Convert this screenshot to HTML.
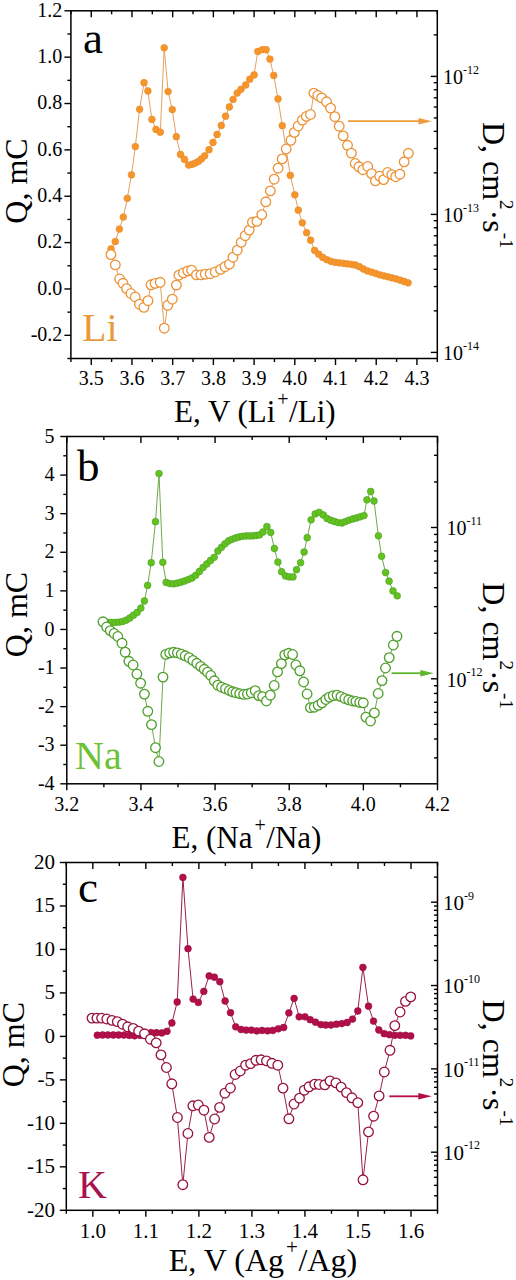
<!DOCTYPE html>
<html><head><meta charset="utf-8"><style>
html,body{margin:0;padding:0;background:#fff;}
body{width:516px;height:1280px;overflow:hidden;}
svg{display:block;font-family:"Liberation Serif", serif;}
</style></head><body>
<svg width="516" height="1280" viewBox="0 0 516 1280">
<rect width="516" height="1280" fill="#fff"/>
<polyline points="111,248.9 115.3,241.6 119.4,229.1 123.3,217.1 127.3,198.3 131.5,174.8 135.3,146.6 139.6,109.3 144,82.7 147.9,91 151.9,119.4 156,129.5 160.3,132.2 164.2,47.8 168.1,91.6 172.3,109.6 176.3,136.7 180.5,154.5 184.5,159.4 188.6,165.1 192.1,164.3 195.3,163.1 198.5,161.3 201.4,159 204.7,155.8 209,149.7 213,142.5 217.1,134.5 221.3,125.5 225.6,116.2 229.4,106.9 233.1,99.4 237.2,93.1 241,89.3 245.7,85 249.8,79.2 254.1,74.9 257.8,51.5 262.4,49.7 266.1,49.7 269.9,59.1 273.7,75.4 278,98.9 282.3,125.7 286.4,150.6 290.3,175.4 294.8,194.8 298.3,210.2 302.3,222.8 306.6,232.7 310.6,240.2 314.6,250.4 318.7,254.2 322.7,257.4 326.8,259.7 330.9,261.3 334.9,262.3 339,262.8 343.1,263.3 347.1,263.8 351.2,264.3 355.3,265 359.3,266.7 363.4,269 367.4,270.9 371.5,272.1 375.6,273.4 379.6,274.8 383.7,275.8 387.8,276.8 391.8,277.8 395.9,278.8 400,280.1 404,281.5 408.1,282.8" fill="none" stroke="#E2A062" stroke-width="1.0" stroke-linejoin="round"/>
<circle cx="111" cy="248.9" r="3.4" fill="#F6952A" stroke="#E88A2C" stroke-width="0.6"/>
<circle cx="115.3" cy="241.6" r="3.4" fill="#F6952A" stroke="#E88A2C" stroke-width="0.6"/>
<circle cx="119.4" cy="229.1" r="3.4" fill="#F6952A" stroke="#E88A2C" stroke-width="0.6"/>
<circle cx="123.3" cy="217.1" r="3.4" fill="#F6952A" stroke="#E88A2C" stroke-width="0.6"/>
<circle cx="127.3" cy="198.3" r="3.4" fill="#F6952A" stroke="#E88A2C" stroke-width="0.6"/>
<circle cx="131.5" cy="174.8" r="3.4" fill="#F6952A" stroke="#E88A2C" stroke-width="0.6"/>
<circle cx="135.3" cy="146.6" r="3.4" fill="#F6952A" stroke="#E88A2C" stroke-width="0.6"/>
<circle cx="139.6" cy="109.3" r="3.4" fill="#F6952A" stroke="#E88A2C" stroke-width="0.6"/>
<circle cx="144" cy="82.7" r="3.4" fill="#F6952A" stroke="#E88A2C" stroke-width="0.6"/>
<circle cx="147.9" cy="91" r="3.4" fill="#F6952A" stroke="#E88A2C" stroke-width="0.6"/>
<circle cx="151.9" cy="119.4" r="3.4" fill="#F6952A" stroke="#E88A2C" stroke-width="0.6"/>
<circle cx="156" cy="129.5" r="3.4" fill="#F6952A" stroke="#E88A2C" stroke-width="0.6"/>
<circle cx="160.3" cy="132.2" r="3.4" fill="#F6952A" stroke="#E88A2C" stroke-width="0.6"/>
<circle cx="164.2" cy="47.8" r="3.4" fill="#F6952A" stroke="#E88A2C" stroke-width="0.6"/>
<circle cx="168.1" cy="91.6" r="3.4" fill="#F6952A" stroke="#E88A2C" stroke-width="0.6"/>
<circle cx="172.3" cy="109.6" r="3.4" fill="#F6952A" stroke="#E88A2C" stroke-width="0.6"/>
<circle cx="176.3" cy="136.7" r="3.4" fill="#F6952A" stroke="#E88A2C" stroke-width="0.6"/>
<circle cx="180.5" cy="154.5" r="3.4" fill="#F6952A" stroke="#E88A2C" stroke-width="0.6"/>
<circle cx="184.5" cy="159.4" r="3.4" fill="#F6952A" stroke="#E88A2C" stroke-width="0.6"/>
<circle cx="188.6" cy="165.1" r="3.4" fill="#F6952A" stroke="#E88A2C" stroke-width="0.6"/>
<circle cx="192.1" cy="164.3" r="3.4" fill="#F6952A" stroke="#E88A2C" stroke-width="0.6"/>
<circle cx="195.3" cy="163.1" r="3.4" fill="#F6952A" stroke="#E88A2C" stroke-width="0.6"/>
<circle cx="198.5" cy="161.3" r="3.4" fill="#F6952A" stroke="#E88A2C" stroke-width="0.6"/>
<circle cx="201.4" cy="159" r="3.4" fill="#F6952A" stroke="#E88A2C" stroke-width="0.6"/>
<circle cx="204.7" cy="155.8" r="3.4" fill="#F6952A" stroke="#E88A2C" stroke-width="0.6"/>
<circle cx="209" cy="149.7" r="3.4" fill="#F6952A" stroke="#E88A2C" stroke-width="0.6"/>
<circle cx="213" cy="142.5" r="3.4" fill="#F6952A" stroke="#E88A2C" stroke-width="0.6"/>
<circle cx="217.1" cy="134.5" r="3.4" fill="#F6952A" stroke="#E88A2C" stroke-width="0.6"/>
<circle cx="221.3" cy="125.5" r="3.4" fill="#F6952A" stroke="#E88A2C" stroke-width="0.6"/>
<circle cx="225.6" cy="116.2" r="3.4" fill="#F6952A" stroke="#E88A2C" stroke-width="0.6"/>
<circle cx="229.4" cy="106.9" r="3.4" fill="#F6952A" stroke="#E88A2C" stroke-width="0.6"/>
<circle cx="233.1" cy="99.4" r="3.4" fill="#F6952A" stroke="#E88A2C" stroke-width="0.6"/>
<circle cx="237.2" cy="93.1" r="3.4" fill="#F6952A" stroke="#E88A2C" stroke-width="0.6"/>
<circle cx="241" cy="89.3" r="3.4" fill="#F6952A" stroke="#E88A2C" stroke-width="0.6"/>
<circle cx="245.7" cy="85" r="3.4" fill="#F6952A" stroke="#E88A2C" stroke-width="0.6"/>
<circle cx="249.8" cy="79.2" r="3.4" fill="#F6952A" stroke="#E88A2C" stroke-width="0.6"/>
<circle cx="254.1" cy="74.9" r="3.4" fill="#F6952A" stroke="#E88A2C" stroke-width="0.6"/>
<circle cx="257.8" cy="51.5" r="3.4" fill="#F6952A" stroke="#E88A2C" stroke-width="0.6"/>
<circle cx="262.4" cy="49.7" r="3.4" fill="#F6952A" stroke="#E88A2C" stroke-width="0.6"/>
<circle cx="266.1" cy="49.7" r="3.4" fill="#F6952A" stroke="#E88A2C" stroke-width="0.6"/>
<circle cx="269.9" cy="59.1" r="3.4" fill="#F6952A" stroke="#E88A2C" stroke-width="0.6"/>
<circle cx="273.7" cy="75.4" r="3.4" fill="#F6952A" stroke="#E88A2C" stroke-width="0.6"/>
<circle cx="278" cy="98.9" r="3.4" fill="#F6952A" stroke="#E88A2C" stroke-width="0.6"/>
<circle cx="282.3" cy="125.7" r="3.4" fill="#F6952A" stroke="#E88A2C" stroke-width="0.6"/>
<circle cx="286.4" cy="150.6" r="3.4" fill="#F6952A" stroke="#E88A2C" stroke-width="0.6"/>
<circle cx="290.3" cy="175.4" r="3.4" fill="#F6952A" stroke="#E88A2C" stroke-width="0.6"/>
<circle cx="294.8" cy="194.8" r="3.4" fill="#F6952A" stroke="#E88A2C" stroke-width="0.6"/>
<circle cx="298.3" cy="210.2" r="3.4" fill="#F6952A" stroke="#E88A2C" stroke-width="0.6"/>
<circle cx="302.3" cy="222.8" r="3.4" fill="#F6952A" stroke="#E88A2C" stroke-width="0.6"/>
<circle cx="306.6" cy="232.7" r="3.4" fill="#F6952A" stroke="#E88A2C" stroke-width="0.6"/>
<circle cx="310.6" cy="240.2" r="3.4" fill="#F6952A" stroke="#E88A2C" stroke-width="0.6"/>
<circle cx="314.6" cy="250.4" r="3.4" fill="#F6952A" stroke="#E88A2C" stroke-width="0.6"/>
<circle cx="318.7" cy="254.2" r="3.4" fill="#F6952A" stroke="#E88A2C" stroke-width="0.6"/>
<circle cx="322.7" cy="257.4" r="3.4" fill="#F6952A" stroke="#E88A2C" stroke-width="0.6"/>
<circle cx="326.8" cy="259.7" r="3.4" fill="#F6952A" stroke="#E88A2C" stroke-width="0.6"/>
<circle cx="330.9" cy="261.3" r="3.4" fill="#F6952A" stroke="#E88A2C" stroke-width="0.6"/>
<circle cx="334.9" cy="262.3" r="3.4" fill="#F6952A" stroke="#E88A2C" stroke-width="0.6"/>
<circle cx="339" cy="262.8" r="3.4" fill="#F6952A" stroke="#E88A2C" stroke-width="0.6"/>
<circle cx="343.1" cy="263.3" r="3.4" fill="#F6952A" stroke="#E88A2C" stroke-width="0.6"/>
<circle cx="347.1" cy="263.8" r="3.4" fill="#F6952A" stroke="#E88A2C" stroke-width="0.6"/>
<circle cx="351.2" cy="264.3" r="3.4" fill="#F6952A" stroke="#E88A2C" stroke-width="0.6"/>
<circle cx="355.3" cy="265" r="3.4" fill="#F6952A" stroke="#E88A2C" stroke-width="0.6"/>
<circle cx="359.3" cy="266.7" r="3.4" fill="#F6952A" stroke="#E88A2C" stroke-width="0.6"/>
<circle cx="363.4" cy="269" r="3.4" fill="#F6952A" stroke="#E88A2C" stroke-width="0.6"/>
<circle cx="367.4" cy="270.9" r="3.4" fill="#F6952A" stroke="#E88A2C" stroke-width="0.6"/>
<circle cx="371.5" cy="272.1" r="3.4" fill="#F6952A" stroke="#E88A2C" stroke-width="0.6"/>
<circle cx="375.6" cy="273.4" r="3.4" fill="#F6952A" stroke="#E88A2C" stroke-width="0.6"/>
<circle cx="379.6" cy="274.8" r="3.4" fill="#F6952A" stroke="#E88A2C" stroke-width="0.6"/>
<circle cx="383.7" cy="275.8" r="3.4" fill="#F6952A" stroke="#E88A2C" stroke-width="0.6"/>
<circle cx="387.8" cy="276.8" r="3.4" fill="#F6952A" stroke="#E88A2C" stroke-width="0.6"/>
<circle cx="391.8" cy="277.8" r="3.4" fill="#F6952A" stroke="#E88A2C" stroke-width="0.6"/>
<circle cx="395.9" cy="278.8" r="3.4" fill="#F6952A" stroke="#E88A2C" stroke-width="0.6"/>
<circle cx="400" cy="280.1" r="3.4" fill="#F6952A" stroke="#E88A2C" stroke-width="0.6"/>
<circle cx="404" cy="281.5" r="3.4" fill="#F6952A" stroke="#E88A2C" stroke-width="0.6"/>
<circle cx="408.1" cy="282.8" r="3.4" fill="#F6952A" stroke="#E88A2C" stroke-width="0.6"/>
<polyline points="110.9,254.6 115.3,264.9 119.6,279 123,283.3 126.6,288.6 130.9,293.5 135.2,297 139.4,304.2 143.9,307.3 148,300.7 151,284.8 155.1,283.4 160.2,282.3 164.3,328.2 167.8,305.3 172.3,299.2 176.4,285.1 178.9,275.2 183.4,272.9 187.7,270.9 191.6,270.2 196.4,274.9 200.9,274.9 205.2,274.2 210.2,273.7 215.2,272 220.5,269.4 225,266.7 229.4,264.1 233,257.2 237.3,250.2 241.2,242.3 245.2,235.7 249.2,230.1 252.4,222.3 256.9,221.4 261.8,214.6 265.8,201.8 270.3,190.9 274.2,179.2 278.1,168.2 282.2,158.9 286.2,149 290.9,140.3 294.3,132.4 298.2,126 302.3,120.1 306.3,116.4 310.5,114.5 313.9,93.1 317.8,95.5 321.6,97.9 326.5,101.8 330.6,108.1 334.9,116.7 339.2,126.2 343.2,135.9 347.5,145.3 351.4,153.1 355.2,163.5 358.9,166.8 362.9,169.7 367.7,166.5 371.6,173.6 375.4,180.9 379.6,176.1 383.6,179.6 387.6,172.5 391.8,174.6 395.7,176.7 399.9,174.2 404.2,161.8 408.4,153.3" fill="none" stroke="#E2A062" stroke-width="1.0" stroke-linejoin="round"/>
<circle cx="110.9" cy="254.6" r="4.8" fill="#fff" stroke="#EC9236" stroke-width="1.3"/>
<circle cx="115.3" cy="264.9" r="4.8" fill="#fff" stroke="#EC9236" stroke-width="1.3"/>
<circle cx="119.6" cy="279" r="4.8" fill="#fff" stroke="#EC9236" stroke-width="1.3"/>
<circle cx="123" cy="283.3" r="4.8" fill="#fff" stroke="#EC9236" stroke-width="1.3"/>
<circle cx="126.6" cy="288.6" r="4.8" fill="#fff" stroke="#EC9236" stroke-width="1.3"/>
<circle cx="130.9" cy="293.5" r="4.8" fill="#fff" stroke="#EC9236" stroke-width="1.3"/>
<circle cx="135.2" cy="297" r="4.8" fill="#fff" stroke="#EC9236" stroke-width="1.3"/>
<circle cx="139.4" cy="304.2" r="4.8" fill="#fff" stroke="#EC9236" stroke-width="1.3"/>
<circle cx="143.9" cy="307.3" r="4.8" fill="#fff" stroke="#EC9236" stroke-width="1.3"/>
<circle cx="148" cy="300.7" r="4.8" fill="#fff" stroke="#EC9236" stroke-width="1.3"/>
<circle cx="151" cy="284.8" r="4.8" fill="#fff" stroke="#EC9236" stroke-width="1.3"/>
<circle cx="155.1" cy="283.4" r="4.8" fill="#fff" stroke="#EC9236" stroke-width="1.3"/>
<circle cx="160.2" cy="282.3" r="4.8" fill="#fff" stroke="#EC9236" stroke-width="1.3"/>
<circle cx="164.3" cy="328.2" r="4.8" fill="#fff" stroke="#EC9236" stroke-width="1.3"/>
<circle cx="167.8" cy="305.3" r="4.8" fill="#fff" stroke="#EC9236" stroke-width="1.3"/>
<circle cx="172.3" cy="299.2" r="4.8" fill="#fff" stroke="#EC9236" stroke-width="1.3"/>
<circle cx="176.4" cy="285.1" r="4.8" fill="#fff" stroke="#EC9236" stroke-width="1.3"/>
<circle cx="178.9" cy="275.2" r="4.8" fill="#fff" stroke="#EC9236" stroke-width="1.3"/>
<circle cx="183.4" cy="272.9" r="4.8" fill="#fff" stroke="#EC9236" stroke-width="1.3"/>
<circle cx="187.7" cy="270.9" r="4.8" fill="#fff" stroke="#EC9236" stroke-width="1.3"/>
<circle cx="191.6" cy="270.2" r="4.8" fill="#fff" stroke="#EC9236" stroke-width="1.3"/>
<circle cx="196.4" cy="274.9" r="4.8" fill="#fff" stroke="#EC9236" stroke-width="1.3"/>
<circle cx="200.9" cy="274.9" r="4.8" fill="#fff" stroke="#EC9236" stroke-width="1.3"/>
<circle cx="205.2" cy="274.2" r="4.8" fill="#fff" stroke="#EC9236" stroke-width="1.3"/>
<circle cx="210.2" cy="273.7" r="4.8" fill="#fff" stroke="#EC9236" stroke-width="1.3"/>
<circle cx="215.2" cy="272" r="4.8" fill="#fff" stroke="#EC9236" stroke-width="1.3"/>
<circle cx="220.5" cy="269.4" r="4.8" fill="#fff" stroke="#EC9236" stroke-width="1.3"/>
<circle cx="225" cy="266.7" r="4.8" fill="#fff" stroke="#EC9236" stroke-width="1.3"/>
<circle cx="229.4" cy="264.1" r="4.8" fill="#fff" stroke="#EC9236" stroke-width="1.3"/>
<circle cx="233" cy="257.2" r="4.8" fill="#fff" stroke="#EC9236" stroke-width="1.3"/>
<circle cx="237.3" cy="250.2" r="4.8" fill="#fff" stroke="#EC9236" stroke-width="1.3"/>
<circle cx="241.2" cy="242.3" r="4.8" fill="#fff" stroke="#EC9236" stroke-width="1.3"/>
<circle cx="245.2" cy="235.7" r="4.8" fill="#fff" stroke="#EC9236" stroke-width="1.3"/>
<circle cx="249.2" cy="230.1" r="4.8" fill="#fff" stroke="#EC9236" stroke-width="1.3"/>
<circle cx="252.4" cy="222.3" r="4.8" fill="#fff" stroke="#EC9236" stroke-width="1.3"/>
<circle cx="256.9" cy="221.4" r="4.8" fill="#fff" stroke="#EC9236" stroke-width="1.3"/>
<circle cx="261.8" cy="214.6" r="4.8" fill="#fff" stroke="#EC9236" stroke-width="1.3"/>
<circle cx="265.8" cy="201.8" r="4.8" fill="#fff" stroke="#EC9236" stroke-width="1.3"/>
<circle cx="270.3" cy="190.9" r="4.8" fill="#fff" stroke="#EC9236" stroke-width="1.3"/>
<circle cx="274.2" cy="179.2" r="4.8" fill="#fff" stroke="#EC9236" stroke-width="1.3"/>
<circle cx="278.1" cy="168.2" r="4.8" fill="#fff" stroke="#EC9236" stroke-width="1.3"/>
<circle cx="282.2" cy="158.9" r="4.8" fill="#fff" stroke="#EC9236" stroke-width="1.3"/>
<circle cx="286.2" cy="149" r="4.8" fill="#fff" stroke="#EC9236" stroke-width="1.3"/>
<circle cx="290.9" cy="140.3" r="4.8" fill="#fff" stroke="#EC9236" stroke-width="1.3"/>
<circle cx="294.3" cy="132.4" r="4.8" fill="#fff" stroke="#EC9236" stroke-width="1.3"/>
<circle cx="298.2" cy="126" r="4.8" fill="#fff" stroke="#EC9236" stroke-width="1.3"/>
<circle cx="302.3" cy="120.1" r="4.8" fill="#fff" stroke="#EC9236" stroke-width="1.3"/>
<circle cx="306.3" cy="116.4" r="4.8" fill="#fff" stroke="#EC9236" stroke-width="1.3"/>
<circle cx="310.5" cy="114.5" r="4.8" fill="#fff" stroke="#EC9236" stroke-width="1.3"/>
<circle cx="313.9" cy="93.1" r="4.8" fill="#fff" stroke="#EC9236" stroke-width="1.3"/>
<circle cx="317.8" cy="95.5" r="4.8" fill="#fff" stroke="#EC9236" stroke-width="1.3"/>
<circle cx="321.6" cy="97.9" r="4.8" fill="#fff" stroke="#EC9236" stroke-width="1.3"/>
<circle cx="326.5" cy="101.8" r="4.8" fill="#fff" stroke="#EC9236" stroke-width="1.3"/>
<circle cx="330.6" cy="108.1" r="4.8" fill="#fff" stroke="#EC9236" stroke-width="1.3"/>
<circle cx="334.9" cy="116.7" r="4.8" fill="#fff" stroke="#EC9236" stroke-width="1.3"/>
<circle cx="339.2" cy="126.2" r="4.8" fill="#fff" stroke="#EC9236" stroke-width="1.3"/>
<circle cx="343.2" cy="135.9" r="4.8" fill="#fff" stroke="#EC9236" stroke-width="1.3"/>
<circle cx="347.5" cy="145.3" r="4.8" fill="#fff" stroke="#EC9236" stroke-width="1.3"/>
<circle cx="351.4" cy="153.1" r="4.8" fill="#fff" stroke="#EC9236" stroke-width="1.3"/>
<circle cx="355.2" cy="163.5" r="4.8" fill="#fff" stroke="#EC9236" stroke-width="1.3"/>
<circle cx="358.9" cy="166.8" r="4.8" fill="#fff" stroke="#EC9236" stroke-width="1.3"/>
<circle cx="362.9" cy="169.7" r="4.8" fill="#fff" stroke="#EC9236" stroke-width="1.3"/>
<circle cx="367.7" cy="166.5" r="4.8" fill="#fff" stroke="#EC9236" stroke-width="1.3"/>
<circle cx="371.6" cy="173.6" r="4.8" fill="#fff" stroke="#EC9236" stroke-width="1.3"/>
<circle cx="375.4" cy="180.9" r="4.8" fill="#fff" stroke="#EC9236" stroke-width="1.3"/>
<circle cx="379.6" cy="176.1" r="4.8" fill="#fff" stroke="#EC9236" stroke-width="1.3"/>
<circle cx="383.6" cy="179.6" r="4.8" fill="#fff" stroke="#EC9236" stroke-width="1.3"/>
<circle cx="387.6" cy="172.5" r="4.8" fill="#fff" stroke="#EC9236" stroke-width="1.3"/>
<circle cx="391.8" cy="174.6" r="4.8" fill="#fff" stroke="#EC9236" stroke-width="1.3"/>
<circle cx="395.7" cy="176.7" r="4.8" fill="#fff" stroke="#EC9236" stroke-width="1.3"/>
<circle cx="399.9" cy="174.2" r="4.8" fill="#fff" stroke="#EC9236" stroke-width="1.3"/>
<circle cx="404.2" cy="161.8" r="4.8" fill="#fff" stroke="#EC9236" stroke-width="1.3"/>
<circle cx="408.4" cy="153.3" r="4.8" fill="#fff" stroke="#EC9236" stroke-width="1.3"/>
<polyline points="103.9,622.6 107.6,622.4 111.3,622.5 115,622.4 118.7,622.2 122.4,621.6 126.1,620.2 129.8,618 133.5,615.2 137.2,612.4 140.9,608.1 144.4,601 147.6,585.4 151.2,562.7 155.5,521.7 159,473.6 162.8,562.3 166.1,582.4 169.8,583.6 173.5,583.8 177.2,583.2 180.9,582.2 184.6,581 188.3,579.6 192,578 195.7,575.3 199.4,571.5 203.1,567.5 206.8,564 210.5,560.5 214.2,557.3 217.9,551 221.5,547.3 225,543.8 228.5,541 232,539.3 235.5,538 239,537 242.5,536.3 246,535.9 249.5,535.9 253,535.9 256,535.5 259.5,534.9 263,532 266.9,526.6 270.7,532.4 274.4,548.5 277.9,562.1 281.6,571.7 285.5,576 289.3,576.9 293,576.9 296.5,569.7 300.6,562.7 304.1,552 307.2,537.7 311.1,519.8 315.2,513.9 319.2,512.3 323.3,515 327,518.5 330.7,520.2 334.4,521.5 338.1,522.6 341.8,523 345.5,521.6 349.2,520.1 352.9,518.9 356.6,517.9 360.3,516.8 364,515.6 366.9,499.8 370.7,491.5 374,501 378.4,535.8 381.6,556.3 385.6,572.6 389.1,581.2 393,590.9 397.2,595.8" fill="none" stroke="#72A84A" stroke-width="1.0" stroke-linejoin="round"/>
<circle cx="103.9" cy="622.6" r="3.4" fill="#62C31F" stroke="#4E9E2A" stroke-width="0.6"/>
<circle cx="107.6" cy="622.4" r="3.4" fill="#62C31F" stroke="#4E9E2A" stroke-width="0.6"/>
<circle cx="111.3" cy="622.5" r="3.4" fill="#62C31F" stroke="#4E9E2A" stroke-width="0.6"/>
<circle cx="115" cy="622.4" r="3.4" fill="#62C31F" stroke="#4E9E2A" stroke-width="0.6"/>
<circle cx="118.7" cy="622.2" r="3.4" fill="#62C31F" stroke="#4E9E2A" stroke-width="0.6"/>
<circle cx="122.4" cy="621.6" r="3.4" fill="#62C31F" stroke="#4E9E2A" stroke-width="0.6"/>
<circle cx="126.1" cy="620.2" r="3.4" fill="#62C31F" stroke="#4E9E2A" stroke-width="0.6"/>
<circle cx="129.8" cy="618" r="3.4" fill="#62C31F" stroke="#4E9E2A" stroke-width="0.6"/>
<circle cx="133.5" cy="615.2" r="3.4" fill="#62C31F" stroke="#4E9E2A" stroke-width="0.6"/>
<circle cx="137.2" cy="612.4" r="3.4" fill="#62C31F" stroke="#4E9E2A" stroke-width="0.6"/>
<circle cx="140.9" cy="608.1" r="3.4" fill="#62C31F" stroke="#4E9E2A" stroke-width="0.6"/>
<circle cx="144.4" cy="601" r="3.4" fill="#62C31F" stroke="#4E9E2A" stroke-width="0.6"/>
<circle cx="147.6" cy="585.4" r="3.4" fill="#62C31F" stroke="#4E9E2A" stroke-width="0.6"/>
<circle cx="151.2" cy="562.7" r="3.4" fill="#62C31F" stroke="#4E9E2A" stroke-width="0.6"/>
<circle cx="155.5" cy="521.7" r="3.4" fill="#62C31F" stroke="#4E9E2A" stroke-width="0.6"/>
<circle cx="159" cy="473.6" r="3.4" fill="#62C31F" stroke="#4E9E2A" stroke-width="0.6"/>
<circle cx="162.8" cy="562.3" r="3.4" fill="#62C31F" stroke="#4E9E2A" stroke-width="0.6"/>
<circle cx="166.1" cy="582.4" r="3.4" fill="#62C31F" stroke="#4E9E2A" stroke-width="0.6"/>
<circle cx="169.8" cy="583.6" r="3.4" fill="#62C31F" stroke="#4E9E2A" stroke-width="0.6"/>
<circle cx="173.5" cy="583.8" r="3.4" fill="#62C31F" stroke="#4E9E2A" stroke-width="0.6"/>
<circle cx="177.2" cy="583.2" r="3.4" fill="#62C31F" stroke="#4E9E2A" stroke-width="0.6"/>
<circle cx="180.9" cy="582.2" r="3.4" fill="#62C31F" stroke="#4E9E2A" stroke-width="0.6"/>
<circle cx="184.6" cy="581" r="3.4" fill="#62C31F" stroke="#4E9E2A" stroke-width="0.6"/>
<circle cx="188.3" cy="579.6" r="3.4" fill="#62C31F" stroke="#4E9E2A" stroke-width="0.6"/>
<circle cx="192" cy="578" r="3.4" fill="#62C31F" stroke="#4E9E2A" stroke-width="0.6"/>
<circle cx="195.7" cy="575.3" r="3.4" fill="#62C31F" stroke="#4E9E2A" stroke-width="0.6"/>
<circle cx="199.4" cy="571.5" r="3.4" fill="#62C31F" stroke="#4E9E2A" stroke-width="0.6"/>
<circle cx="203.1" cy="567.5" r="3.4" fill="#62C31F" stroke="#4E9E2A" stroke-width="0.6"/>
<circle cx="206.8" cy="564" r="3.4" fill="#62C31F" stroke="#4E9E2A" stroke-width="0.6"/>
<circle cx="210.5" cy="560.5" r="3.4" fill="#62C31F" stroke="#4E9E2A" stroke-width="0.6"/>
<circle cx="214.2" cy="557.3" r="3.4" fill="#62C31F" stroke="#4E9E2A" stroke-width="0.6"/>
<circle cx="217.9" cy="551" r="3.4" fill="#62C31F" stroke="#4E9E2A" stroke-width="0.6"/>
<circle cx="221.5" cy="547.3" r="3.4" fill="#62C31F" stroke="#4E9E2A" stroke-width="0.6"/>
<circle cx="225" cy="543.8" r="3.4" fill="#62C31F" stroke="#4E9E2A" stroke-width="0.6"/>
<circle cx="228.5" cy="541" r="3.4" fill="#62C31F" stroke="#4E9E2A" stroke-width="0.6"/>
<circle cx="232" cy="539.3" r="3.4" fill="#62C31F" stroke="#4E9E2A" stroke-width="0.6"/>
<circle cx="235.5" cy="538" r="3.4" fill="#62C31F" stroke="#4E9E2A" stroke-width="0.6"/>
<circle cx="239" cy="537" r="3.4" fill="#62C31F" stroke="#4E9E2A" stroke-width="0.6"/>
<circle cx="242.5" cy="536.3" r="3.4" fill="#62C31F" stroke="#4E9E2A" stroke-width="0.6"/>
<circle cx="246" cy="535.9" r="3.4" fill="#62C31F" stroke="#4E9E2A" stroke-width="0.6"/>
<circle cx="249.5" cy="535.9" r="3.4" fill="#62C31F" stroke="#4E9E2A" stroke-width="0.6"/>
<circle cx="253" cy="535.9" r="3.4" fill="#62C31F" stroke="#4E9E2A" stroke-width="0.6"/>
<circle cx="256" cy="535.5" r="3.4" fill="#62C31F" stroke="#4E9E2A" stroke-width="0.6"/>
<circle cx="259.5" cy="534.9" r="3.4" fill="#62C31F" stroke="#4E9E2A" stroke-width="0.6"/>
<circle cx="263" cy="532" r="3.4" fill="#62C31F" stroke="#4E9E2A" stroke-width="0.6"/>
<circle cx="266.9" cy="526.6" r="3.4" fill="#62C31F" stroke="#4E9E2A" stroke-width="0.6"/>
<circle cx="270.7" cy="532.4" r="3.4" fill="#62C31F" stroke="#4E9E2A" stroke-width="0.6"/>
<circle cx="274.4" cy="548.5" r="3.4" fill="#62C31F" stroke="#4E9E2A" stroke-width="0.6"/>
<circle cx="277.9" cy="562.1" r="3.4" fill="#62C31F" stroke="#4E9E2A" stroke-width="0.6"/>
<circle cx="281.6" cy="571.7" r="3.4" fill="#62C31F" stroke="#4E9E2A" stroke-width="0.6"/>
<circle cx="285.5" cy="576" r="3.4" fill="#62C31F" stroke="#4E9E2A" stroke-width="0.6"/>
<circle cx="289.3" cy="576.9" r="3.4" fill="#62C31F" stroke="#4E9E2A" stroke-width="0.6"/>
<circle cx="293" cy="576.9" r="3.4" fill="#62C31F" stroke="#4E9E2A" stroke-width="0.6"/>
<circle cx="296.5" cy="569.7" r="3.4" fill="#62C31F" stroke="#4E9E2A" stroke-width="0.6"/>
<circle cx="300.6" cy="562.7" r="3.4" fill="#62C31F" stroke="#4E9E2A" stroke-width="0.6"/>
<circle cx="304.1" cy="552" r="3.4" fill="#62C31F" stroke="#4E9E2A" stroke-width="0.6"/>
<circle cx="307.2" cy="537.7" r="3.4" fill="#62C31F" stroke="#4E9E2A" stroke-width="0.6"/>
<circle cx="311.1" cy="519.8" r="3.4" fill="#62C31F" stroke="#4E9E2A" stroke-width="0.6"/>
<circle cx="315.2" cy="513.9" r="3.4" fill="#62C31F" stroke="#4E9E2A" stroke-width="0.6"/>
<circle cx="319.2" cy="512.3" r="3.4" fill="#62C31F" stroke="#4E9E2A" stroke-width="0.6"/>
<circle cx="323.3" cy="515" r="3.4" fill="#62C31F" stroke="#4E9E2A" stroke-width="0.6"/>
<circle cx="327" cy="518.5" r="3.4" fill="#62C31F" stroke="#4E9E2A" stroke-width="0.6"/>
<circle cx="330.7" cy="520.2" r="3.4" fill="#62C31F" stroke="#4E9E2A" stroke-width="0.6"/>
<circle cx="334.4" cy="521.5" r="3.4" fill="#62C31F" stroke="#4E9E2A" stroke-width="0.6"/>
<circle cx="338.1" cy="522.6" r="3.4" fill="#62C31F" stroke="#4E9E2A" stroke-width="0.6"/>
<circle cx="341.8" cy="523" r="3.4" fill="#62C31F" stroke="#4E9E2A" stroke-width="0.6"/>
<circle cx="345.5" cy="521.6" r="3.4" fill="#62C31F" stroke="#4E9E2A" stroke-width="0.6"/>
<circle cx="349.2" cy="520.1" r="3.4" fill="#62C31F" stroke="#4E9E2A" stroke-width="0.6"/>
<circle cx="352.9" cy="518.9" r="3.4" fill="#62C31F" stroke="#4E9E2A" stroke-width="0.6"/>
<circle cx="356.6" cy="517.9" r="3.4" fill="#62C31F" stroke="#4E9E2A" stroke-width="0.6"/>
<circle cx="360.3" cy="516.8" r="3.4" fill="#62C31F" stroke="#4E9E2A" stroke-width="0.6"/>
<circle cx="364" cy="515.6" r="3.4" fill="#62C31F" stroke="#4E9E2A" stroke-width="0.6"/>
<circle cx="366.9" cy="499.8" r="3.4" fill="#62C31F" stroke="#4E9E2A" stroke-width="0.6"/>
<circle cx="370.7" cy="491.5" r="3.4" fill="#62C31F" stroke="#4E9E2A" stroke-width="0.6"/>
<circle cx="374" cy="501" r="3.4" fill="#62C31F" stroke="#4E9E2A" stroke-width="0.6"/>
<circle cx="378.4" cy="535.8" r="3.4" fill="#62C31F" stroke="#4E9E2A" stroke-width="0.6"/>
<circle cx="381.6" cy="556.3" r="3.4" fill="#62C31F" stroke="#4E9E2A" stroke-width="0.6"/>
<circle cx="385.6" cy="572.6" r="3.4" fill="#62C31F" stroke="#4E9E2A" stroke-width="0.6"/>
<circle cx="389.1" cy="581.2" r="3.4" fill="#62C31F" stroke="#4E9E2A" stroke-width="0.6"/>
<circle cx="393" cy="590.9" r="3.4" fill="#62C31F" stroke="#4E9E2A" stroke-width="0.6"/>
<circle cx="397.2" cy="595.8" r="3.4" fill="#62C31F" stroke="#4E9E2A" stroke-width="0.6"/>
<polyline points="103,621.8 106.6,627 110.3,630.6 114.1,633.5 117.8,636.5 122,643.2 125.2,652.2 128.9,661.3 133.1,665 136.9,674 140.6,683.2 144.4,694.1 147.8,711.3 151.5,724.6 155.5,747.7 158.9,761.5 163,677.1 165.8,654.4 169.7,652.9 173.6,652.3 177.4,652.9 181.3,654.2 185.2,655.8 189.1,657.7 192.9,660.4 196.8,663.3 200.7,666.4 204.2,669.3 207.5,672.2 210.8,675.5 214.3,680.8 217.8,685.2 221.6,687.2 225.5,688.7 229.4,690.5 232.6,691.8 236,692.7 239.7,693.6 243.6,694.4 247.4,694 251.3,692.7 255.2,690.7 258.7,695.6 262.6,696.6 266.4,701 270.3,695.2 274.2,685.5 277.5,671.9 281.4,663.6 284.8,654.9 288.7,653.3 292.6,654.5 295.9,665 299.8,670.8 303.6,682 307.1,694 310.4,707.6 314.3,707.2 318.2,705.3 322,702.8 325.8,699.5 329.3,697.1 333.2,695.6 337.1,695.2 340.9,696.6 344.8,698.5 348.7,699.8 352.6,701 355.9,701.4 359.7,702.4 363.3,702.8 365.9,717.1 370.5,721 374.4,712.9 378.2,693.5 382,680.6 385.5,668 389.2,657.6 393.3,645 397,636.3" fill="none" stroke="#72A84A" stroke-width="1.0" stroke-linejoin="round"/>
<circle cx="103" cy="621.8" r="4.8" fill="#fff" stroke="#4E9E2A" stroke-width="1.3"/>
<circle cx="106.6" cy="627" r="4.8" fill="#fff" stroke="#4E9E2A" stroke-width="1.3"/>
<circle cx="110.3" cy="630.6" r="4.8" fill="#fff" stroke="#4E9E2A" stroke-width="1.3"/>
<circle cx="114.1" cy="633.5" r="4.8" fill="#fff" stroke="#4E9E2A" stroke-width="1.3"/>
<circle cx="117.8" cy="636.5" r="4.8" fill="#fff" stroke="#4E9E2A" stroke-width="1.3"/>
<circle cx="122" cy="643.2" r="4.8" fill="#fff" stroke="#4E9E2A" stroke-width="1.3"/>
<circle cx="125.2" cy="652.2" r="4.8" fill="#fff" stroke="#4E9E2A" stroke-width="1.3"/>
<circle cx="128.9" cy="661.3" r="4.8" fill="#fff" stroke="#4E9E2A" stroke-width="1.3"/>
<circle cx="133.1" cy="665" r="4.8" fill="#fff" stroke="#4E9E2A" stroke-width="1.3"/>
<circle cx="136.9" cy="674" r="4.8" fill="#fff" stroke="#4E9E2A" stroke-width="1.3"/>
<circle cx="140.6" cy="683.2" r="4.8" fill="#fff" stroke="#4E9E2A" stroke-width="1.3"/>
<circle cx="144.4" cy="694.1" r="4.8" fill="#fff" stroke="#4E9E2A" stroke-width="1.3"/>
<circle cx="147.8" cy="711.3" r="4.8" fill="#fff" stroke="#4E9E2A" stroke-width="1.3"/>
<circle cx="151.5" cy="724.6" r="4.8" fill="#fff" stroke="#4E9E2A" stroke-width="1.3"/>
<circle cx="155.5" cy="747.7" r="4.8" fill="#fff" stroke="#4E9E2A" stroke-width="1.3"/>
<circle cx="158.9" cy="761.5" r="4.8" fill="#fff" stroke="#4E9E2A" stroke-width="1.3"/>
<circle cx="163" cy="677.1" r="4.8" fill="#fff" stroke="#4E9E2A" stroke-width="1.3"/>
<circle cx="165.8" cy="654.4" r="4.8" fill="#fff" stroke="#4E9E2A" stroke-width="1.3"/>
<circle cx="169.7" cy="652.9" r="4.8" fill="#fff" stroke="#4E9E2A" stroke-width="1.3"/>
<circle cx="173.6" cy="652.3" r="4.8" fill="#fff" stroke="#4E9E2A" stroke-width="1.3"/>
<circle cx="177.4" cy="652.9" r="4.8" fill="#fff" stroke="#4E9E2A" stroke-width="1.3"/>
<circle cx="181.3" cy="654.2" r="4.8" fill="#fff" stroke="#4E9E2A" stroke-width="1.3"/>
<circle cx="185.2" cy="655.8" r="4.8" fill="#fff" stroke="#4E9E2A" stroke-width="1.3"/>
<circle cx="189.1" cy="657.7" r="4.8" fill="#fff" stroke="#4E9E2A" stroke-width="1.3"/>
<circle cx="192.9" cy="660.4" r="4.8" fill="#fff" stroke="#4E9E2A" stroke-width="1.3"/>
<circle cx="196.8" cy="663.3" r="4.8" fill="#fff" stroke="#4E9E2A" stroke-width="1.3"/>
<circle cx="200.7" cy="666.4" r="4.8" fill="#fff" stroke="#4E9E2A" stroke-width="1.3"/>
<circle cx="204.2" cy="669.3" r="4.8" fill="#fff" stroke="#4E9E2A" stroke-width="1.3"/>
<circle cx="207.5" cy="672.2" r="4.8" fill="#fff" stroke="#4E9E2A" stroke-width="1.3"/>
<circle cx="210.8" cy="675.5" r="4.8" fill="#fff" stroke="#4E9E2A" stroke-width="1.3"/>
<circle cx="214.3" cy="680.8" r="4.8" fill="#fff" stroke="#4E9E2A" stroke-width="1.3"/>
<circle cx="217.8" cy="685.2" r="4.8" fill="#fff" stroke="#4E9E2A" stroke-width="1.3"/>
<circle cx="221.6" cy="687.2" r="4.8" fill="#fff" stroke="#4E9E2A" stroke-width="1.3"/>
<circle cx="225.5" cy="688.7" r="4.8" fill="#fff" stroke="#4E9E2A" stroke-width="1.3"/>
<circle cx="229.4" cy="690.5" r="4.8" fill="#fff" stroke="#4E9E2A" stroke-width="1.3"/>
<circle cx="232.6" cy="691.8" r="4.8" fill="#fff" stroke="#4E9E2A" stroke-width="1.3"/>
<circle cx="236" cy="692.7" r="4.8" fill="#fff" stroke="#4E9E2A" stroke-width="1.3"/>
<circle cx="239.7" cy="693.6" r="4.8" fill="#fff" stroke="#4E9E2A" stroke-width="1.3"/>
<circle cx="243.6" cy="694.4" r="4.8" fill="#fff" stroke="#4E9E2A" stroke-width="1.3"/>
<circle cx="247.4" cy="694" r="4.8" fill="#fff" stroke="#4E9E2A" stroke-width="1.3"/>
<circle cx="251.3" cy="692.7" r="4.8" fill="#fff" stroke="#4E9E2A" stroke-width="1.3"/>
<circle cx="255.2" cy="690.7" r="4.8" fill="#fff" stroke="#4E9E2A" stroke-width="1.3"/>
<circle cx="258.7" cy="695.6" r="4.8" fill="#fff" stroke="#4E9E2A" stroke-width="1.3"/>
<circle cx="262.6" cy="696.6" r="4.8" fill="#fff" stroke="#4E9E2A" stroke-width="1.3"/>
<circle cx="266.4" cy="701" r="4.8" fill="#fff" stroke="#4E9E2A" stroke-width="1.3"/>
<circle cx="270.3" cy="695.2" r="4.8" fill="#fff" stroke="#4E9E2A" stroke-width="1.3"/>
<circle cx="274.2" cy="685.5" r="4.8" fill="#fff" stroke="#4E9E2A" stroke-width="1.3"/>
<circle cx="277.5" cy="671.9" r="4.8" fill="#fff" stroke="#4E9E2A" stroke-width="1.3"/>
<circle cx="281.4" cy="663.6" r="4.8" fill="#fff" stroke="#4E9E2A" stroke-width="1.3"/>
<circle cx="284.8" cy="654.9" r="4.8" fill="#fff" stroke="#4E9E2A" stroke-width="1.3"/>
<circle cx="288.7" cy="653.3" r="4.8" fill="#fff" stroke="#4E9E2A" stroke-width="1.3"/>
<circle cx="292.6" cy="654.5" r="4.8" fill="#fff" stroke="#4E9E2A" stroke-width="1.3"/>
<circle cx="295.9" cy="665" r="4.8" fill="#fff" stroke="#4E9E2A" stroke-width="1.3"/>
<circle cx="299.8" cy="670.8" r="4.8" fill="#fff" stroke="#4E9E2A" stroke-width="1.3"/>
<circle cx="303.6" cy="682" r="4.8" fill="#fff" stroke="#4E9E2A" stroke-width="1.3"/>
<circle cx="307.1" cy="694" r="4.8" fill="#fff" stroke="#4E9E2A" stroke-width="1.3"/>
<circle cx="310.4" cy="707.6" r="4.8" fill="#fff" stroke="#4E9E2A" stroke-width="1.3"/>
<circle cx="314.3" cy="707.2" r="4.8" fill="#fff" stroke="#4E9E2A" stroke-width="1.3"/>
<circle cx="318.2" cy="705.3" r="4.8" fill="#fff" stroke="#4E9E2A" stroke-width="1.3"/>
<circle cx="322" cy="702.8" r="4.8" fill="#fff" stroke="#4E9E2A" stroke-width="1.3"/>
<circle cx="325.8" cy="699.5" r="4.8" fill="#fff" stroke="#4E9E2A" stroke-width="1.3"/>
<circle cx="329.3" cy="697.1" r="4.8" fill="#fff" stroke="#4E9E2A" stroke-width="1.3"/>
<circle cx="333.2" cy="695.6" r="4.8" fill="#fff" stroke="#4E9E2A" stroke-width="1.3"/>
<circle cx="337.1" cy="695.2" r="4.8" fill="#fff" stroke="#4E9E2A" stroke-width="1.3"/>
<circle cx="340.9" cy="696.6" r="4.8" fill="#fff" stroke="#4E9E2A" stroke-width="1.3"/>
<circle cx="344.8" cy="698.5" r="4.8" fill="#fff" stroke="#4E9E2A" stroke-width="1.3"/>
<circle cx="348.7" cy="699.8" r="4.8" fill="#fff" stroke="#4E9E2A" stroke-width="1.3"/>
<circle cx="352.6" cy="701" r="4.8" fill="#fff" stroke="#4E9E2A" stroke-width="1.3"/>
<circle cx="355.9" cy="701.4" r="4.8" fill="#fff" stroke="#4E9E2A" stroke-width="1.3"/>
<circle cx="359.7" cy="702.4" r="4.8" fill="#fff" stroke="#4E9E2A" stroke-width="1.3"/>
<circle cx="363.3" cy="702.8" r="4.8" fill="#fff" stroke="#4E9E2A" stroke-width="1.3"/>
<circle cx="365.9" cy="717.1" r="4.8" fill="#fff" stroke="#4E9E2A" stroke-width="1.3"/>
<circle cx="370.5" cy="721" r="4.8" fill="#fff" stroke="#4E9E2A" stroke-width="1.3"/>
<circle cx="374.4" cy="712.9" r="4.8" fill="#fff" stroke="#4E9E2A" stroke-width="1.3"/>
<circle cx="378.2" cy="693.5" r="4.8" fill="#fff" stroke="#4E9E2A" stroke-width="1.3"/>
<circle cx="382" cy="680.6" r="4.8" fill="#fff" stroke="#4E9E2A" stroke-width="1.3"/>
<circle cx="385.5" cy="668" r="4.8" fill="#fff" stroke="#4E9E2A" stroke-width="1.3"/>
<circle cx="389.2" cy="657.6" r="4.8" fill="#fff" stroke="#4E9E2A" stroke-width="1.3"/>
<circle cx="393.3" cy="645" r="4.8" fill="#fff" stroke="#4E9E2A" stroke-width="1.3"/>
<circle cx="397" cy="636.3" r="4.8" fill="#fff" stroke="#4E9E2A" stroke-width="1.3"/>
<polyline points="97.3,1035.2 102.6,1035 107.9,1035 113.3,1035 118.6,1035 123.9,1035.1 129.3,1035.4 134.6,1035.8 140,1035.3 145.4,1034.3 151.1,1032.6 156.4,1032.7 161.8,1032.9 167,1031.3 171.9,1022.9 177.2,1002 182.9,877.4 188,948.7 193.1,999.1 198.3,1002.4 203.8,991.4 209.2,975.9 214.4,977.2 219.8,981.7 225.1,1001 230.5,1012.7 235.7,1026.8 241,1029.5 246.2,1030.1 251.4,1030.1 256.7,1030.9 262.1,1030.4 267.6,1030.8 272.8,1030.4 278.3,1028.8 283.7,1027.5 288.9,1012.9 294.1,998.4 299.2,1016.8 305,1016.8 310.2,1019.7 315.5,1022.2 320.9,1024.6 325.7,1025 331,1025 336.4,1024.2 341.8,1023.6 347.2,1022.5 352.5,1019.1 357.8,1011 362.9,967.4 368.5,1006.2 373.5,1021.1 378.8,1030 384.2,1033.7 389.4,1034.7 394.8,1035.3 400.1,1035.3 405.5,1035.3 410.7,1035.9" fill="none" stroke="#982050" stroke-width="1.0" stroke-linejoin="round"/>
<circle cx="97.3" cy="1035.2" r="3.4" fill="#B40E4A" stroke="#96103F" stroke-width="0.6"/>
<circle cx="102.6" cy="1035" r="3.4" fill="#B40E4A" stroke="#96103F" stroke-width="0.6"/>
<circle cx="107.9" cy="1035" r="3.4" fill="#B40E4A" stroke="#96103F" stroke-width="0.6"/>
<circle cx="113.3" cy="1035" r="3.4" fill="#B40E4A" stroke="#96103F" stroke-width="0.6"/>
<circle cx="118.6" cy="1035" r="3.4" fill="#B40E4A" stroke="#96103F" stroke-width="0.6"/>
<circle cx="123.9" cy="1035.1" r="3.4" fill="#B40E4A" stroke="#96103F" stroke-width="0.6"/>
<circle cx="129.3" cy="1035.4" r="3.4" fill="#B40E4A" stroke="#96103F" stroke-width="0.6"/>
<circle cx="134.6" cy="1035.8" r="3.4" fill="#B40E4A" stroke="#96103F" stroke-width="0.6"/>
<circle cx="140" cy="1035.3" r="3.4" fill="#B40E4A" stroke="#96103F" stroke-width="0.6"/>
<circle cx="145.4" cy="1034.3" r="3.4" fill="#B40E4A" stroke="#96103F" stroke-width="0.6"/>
<circle cx="151.1" cy="1032.6" r="3.4" fill="#B40E4A" stroke="#96103F" stroke-width="0.6"/>
<circle cx="156.4" cy="1032.7" r="3.4" fill="#B40E4A" stroke="#96103F" stroke-width="0.6"/>
<circle cx="161.8" cy="1032.9" r="3.4" fill="#B40E4A" stroke="#96103F" stroke-width="0.6"/>
<circle cx="167" cy="1031.3" r="3.4" fill="#B40E4A" stroke="#96103F" stroke-width="0.6"/>
<circle cx="171.9" cy="1022.9" r="3.4" fill="#B40E4A" stroke="#96103F" stroke-width="0.6"/>
<circle cx="177.2" cy="1002" r="3.4" fill="#B40E4A" stroke="#96103F" stroke-width="0.6"/>
<circle cx="182.9" cy="877.4" r="3.4" fill="#B40E4A" stroke="#96103F" stroke-width="0.6"/>
<circle cx="188" cy="948.7" r="3.4" fill="#B40E4A" stroke="#96103F" stroke-width="0.6"/>
<circle cx="193.1" cy="999.1" r="3.4" fill="#B40E4A" stroke="#96103F" stroke-width="0.6"/>
<circle cx="198.3" cy="1002.4" r="3.4" fill="#B40E4A" stroke="#96103F" stroke-width="0.6"/>
<circle cx="203.8" cy="991.4" r="3.4" fill="#B40E4A" stroke="#96103F" stroke-width="0.6"/>
<circle cx="209.2" cy="975.9" r="3.4" fill="#B40E4A" stroke="#96103F" stroke-width="0.6"/>
<circle cx="214.4" cy="977.2" r="3.4" fill="#B40E4A" stroke="#96103F" stroke-width="0.6"/>
<circle cx="219.8" cy="981.7" r="3.4" fill="#B40E4A" stroke="#96103F" stroke-width="0.6"/>
<circle cx="225.1" cy="1001" r="3.4" fill="#B40E4A" stroke="#96103F" stroke-width="0.6"/>
<circle cx="230.5" cy="1012.7" r="3.4" fill="#B40E4A" stroke="#96103F" stroke-width="0.6"/>
<circle cx="235.7" cy="1026.8" r="3.4" fill="#B40E4A" stroke="#96103F" stroke-width="0.6"/>
<circle cx="241" cy="1029.5" r="3.4" fill="#B40E4A" stroke="#96103F" stroke-width="0.6"/>
<circle cx="246.2" cy="1030.1" r="3.4" fill="#B40E4A" stroke="#96103F" stroke-width="0.6"/>
<circle cx="251.4" cy="1030.1" r="3.4" fill="#B40E4A" stroke="#96103F" stroke-width="0.6"/>
<circle cx="256.7" cy="1030.9" r="3.4" fill="#B40E4A" stroke="#96103F" stroke-width="0.6"/>
<circle cx="262.1" cy="1030.4" r="3.4" fill="#B40E4A" stroke="#96103F" stroke-width="0.6"/>
<circle cx="267.6" cy="1030.8" r="3.4" fill="#B40E4A" stroke="#96103F" stroke-width="0.6"/>
<circle cx="272.8" cy="1030.4" r="3.4" fill="#B40E4A" stroke="#96103F" stroke-width="0.6"/>
<circle cx="278.3" cy="1028.8" r="3.4" fill="#B40E4A" stroke="#96103F" stroke-width="0.6"/>
<circle cx="283.7" cy="1027.5" r="3.4" fill="#B40E4A" stroke="#96103F" stroke-width="0.6"/>
<circle cx="288.9" cy="1012.9" r="3.4" fill="#B40E4A" stroke="#96103F" stroke-width="0.6"/>
<circle cx="294.1" cy="998.4" r="3.4" fill="#B40E4A" stroke="#96103F" stroke-width="0.6"/>
<circle cx="299.2" cy="1016.8" r="3.4" fill="#B40E4A" stroke="#96103F" stroke-width="0.6"/>
<circle cx="305" cy="1016.8" r="3.4" fill="#B40E4A" stroke="#96103F" stroke-width="0.6"/>
<circle cx="310.2" cy="1019.7" r="3.4" fill="#B40E4A" stroke="#96103F" stroke-width="0.6"/>
<circle cx="315.5" cy="1022.2" r="3.4" fill="#B40E4A" stroke="#96103F" stroke-width="0.6"/>
<circle cx="320.9" cy="1024.6" r="3.4" fill="#B40E4A" stroke="#96103F" stroke-width="0.6"/>
<circle cx="325.7" cy="1025" r="3.4" fill="#B40E4A" stroke="#96103F" stroke-width="0.6"/>
<circle cx="331" cy="1025" r="3.4" fill="#B40E4A" stroke="#96103F" stroke-width="0.6"/>
<circle cx="336.4" cy="1024.2" r="3.4" fill="#B40E4A" stroke="#96103F" stroke-width="0.6"/>
<circle cx="341.8" cy="1023.6" r="3.4" fill="#B40E4A" stroke="#96103F" stroke-width="0.6"/>
<circle cx="347.2" cy="1022.5" r="3.4" fill="#B40E4A" stroke="#96103F" stroke-width="0.6"/>
<circle cx="352.5" cy="1019.1" r="3.4" fill="#B40E4A" stroke="#96103F" stroke-width="0.6"/>
<circle cx="357.8" cy="1011" r="3.4" fill="#B40E4A" stroke="#96103F" stroke-width="0.6"/>
<circle cx="362.9" cy="967.4" r="3.4" fill="#B40E4A" stroke="#96103F" stroke-width="0.6"/>
<circle cx="368.5" cy="1006.2" r="3.4" fill="#B40E4A" stroke="#96103F" stroke-width="0.6"/>
<circle cx="373.5" cy="1021.1" r="3.4" fill="#B40E4A" stroke="#96103F" stroke-width="0.6"/>
<circle cx="378.8" cy="1030" r="3.4" fill="#B40E4A" stroke="#96103F" stroke-width="0.6"/>
<circle cx="384.2" cy="1033.7" r="3.4" fill="#B40E4A" stroke="#96103F" stroke-width="0.6"/>
<circle cx="389.4" cy="1034.7" r="3.4" fill="#B40E4A" stroke="#96103F" stroke-width="0.6"/>
<circle cx="394.8" cy="1035.3" r="3.4" fill="#B40E4A" stroke="#96103F" stroke-width="0.6"/>
<circle cx="400.1" cy="1035.3" r="3.4" fill="#B40E4A" stroke="#96103F" stroke-width="0.6"/>
<circle cx="405.5" cy="1035.3" r="3.4" fill="#B40E4A" stroke="#96103F" stroke-width="0.6"/>
<circle cx="410.7" cy="1035.9" r="3.4" fill="#B40E4A" stroke="#96103F" stroke-width="0.6"/>
<polyline points="92,1018.1 96.9,1018.1 101.6,1018.1 106.8,1019 112,1020.4 117.3,1021.6 122.5,1024.2 127.7,1026.8 133.2,1028.4 138.6,1031.1 144.5,1033.8 150.4,1039.2 156.2,1042.9 161,1054.9 166.4,1067.5 171.8,1083.8 177.4,1117.5 182.8,1184.7 187.9,1133.5 192.9,1105.8 198.3,1105 203.9,1110.2 209.2,1137.4 214.6,1119 219.6,1107.4 224.9,1093.2 230.4,1088 235.1,1074.5 240.3,1071 245.6,1065.2 250.6,1063.6 255.9,1060.3 261.1,1059.8 266.5,1060.9 271.9,1063.3 277.8,1065.2 283,1088.1 288.9,1118.8 294,1104 299.5,1098.1 304.3,1090.2 309,1086.8 314.7,1084.2 319.1,1084.5 324.8,1084.8 330,1080.9 335.9,1082.9 341.1,1087.1 346.5,1092.6 351.9,1097.8 357.8,1102.6 363,1179.8 368.5,1131.9 373.6,1116.2 379.1,1095.9 384.3,1072 390,1050.3 394.8,1025.6 400.1,1012 405.5,1001.4 410.7,996.9" fill="none" stroke="#982050" stroke-width="1.0" stroke-linejoin="round"/>
<circle cx="92" cy="1018.1" r="4.8" fill="#fff" stroke="#96103F" stroke-width="1.3"/>
<circle cx="96.9" cy="1018.1" r="4.8" fill="#fff" stroke="#96103F" stroke-width="1.3"/>
<circle cx="101.6" cy="1018.1" r="4.8" fill="#fff" stroke="#96103F" stroke-width="1.3"/>
<circle cx="106.8" cy="1019" r="4.8" fill="#fff" stroke="#96103F" stroke-width="1.3"/>
<circle cx="112" cy="1020.4" r="4.8" fill="#fff" stroke="#96103F" stroke-width="1.3"/>
<circle cx="117.3" cy="1021.6" r="4.8" fill="#fff" stroke="#96103F" stroke-width="1.3"/>
<circle cx="122.5" cy="1024.2" r="4.8" fill="#fff" stroke="#96103F" stroke-width="1.3"/>
<circle cx="127.7" cy="1026.8" r="4.8" fill="#fff" stroke="#96103F" stroke-width="1.3"/>
<circle cx="133.2" cy="1028.4" r="4.8" fill="#fff" stroke="#96103F" stroke-width="1.3"/>
<circle cx="138.6" cy="1031.1" r="4.8" fill="#fff" stroke="#96103F" stroke-width="1.3"/>
<circle cx="144.5" cy="1033.8" r="4.8" fill="#fff" stroke="#96103F" stroke-width="1.3"/>
<circle cx="150.4" cy="1039.2" r="4.8" fill="#fff" stroke="#96103F" stroke-width="1.3"/>
<circle cx="156.2" cy="1042.9" r="4.8" fill="#fff" stroke="#96103F" stroke-width="1.3"/>
<circle cx="161" cy="1054.9" r="4.8" fill="#fff" stroke="#96103F" stroke-width="1.3"/>
<circle cx="166.4" cy="1067.5" r="4.8" fill="#fff" stroke="#96103F" stroke-width="1.3"/>
<circle cx="171.8" cy="1083.8" r="4.8" fill="#fff" stroke="#96103F" stroke-width="1.3"/>
<circle cx="177.4" cy="1117.5" r="4.8" fill="#fff" stroke="#96103F" stroke-width="1.3"/>
<circle cx="182.8" cy="1184.7" r="4.8" fill="#fff" stroke="#96103F" stroke-width="1.3"/>
<circle cx="187.9" cy="1133.5" r="4.8" fill="#fff" stroke="#96103F" stroke-width="1.3"/>
<circle cx="192.9" cy="1105.8" r="4.8" fill="#fff" stroke="#96103F" stroke-width="1.3"/>
<circle cx="198.3" cy="1105" r="4.8" fill="#fff" stroke="#96103F" stroke-width="1.3"/>
<circle cx="203.9" cy="1110.2" r="4.8" fill="#fff" stroke="#96103F" stroke-width="1.3"/>
<circle cx="209.2" cy="1137.4" r="4.8" fill="#fff" stroke="#96103F" stroke-width="1.3"/>
<circle cx="214.6" cy="1119" r="4.8" fill="#fff" stroke="#96103F" stroke-width="1.3"/>
<circle cx="219.6" cy="1107.4" r="4.8" fill="#fff" stroke="#96103F" stroke-width="1.3"/>
<circle cx="224.9" cy="1093.2" r="4.8" fill="#fff" stroke="#96103F" stroke-width="1.3"/>
<circle cx="230.4" cy="1088" r="4.8" fill="#fff" stroke="#96103F" stroke-width="1.3"/>
<circle cx="235.1" cy="1074.5" r="4.8" fill="#fff" stroke="#96103F" stroke-width="1.3"/>
<circle cx="240.3" cy="1071" r="4.8" fill="#fff" stroke="#96103F" stroke-width="1.3"/>
<circle cx="245.6" cy="1065.2" r="4.8" fill="#fff" stroke="#96103F" stroke-width="1.3"/>
<circle cx="250.6" cy="1063.6" r="4.8" fill="#fff" stroke="#96103F" stroke-width="1.3"/>
<circle cx="255.9" cy="1060.3" r="4.8" fill="#fff" stroke="#96103F" stroke-width="1.3"/>
<circle cx="261.1" cy="1059.8" r="4.8" fill="#fff" stroke="#96103F" stroke-width="1.3"/>
<circle cx="266.5" cy="1060.9" r="4.8" fill="#fff" stroke="#96103F" stroke-width="1.3"/>
<circle cx="271.9" cy="1063.3" r="4.8" fill="#fff" stroke="#96103F" stroke-width="1.3"/>
<circle cx="277.8" cy="1065.2" r="4.8" fill="#fff" stroke="#96103F" stroke-width="1.3"/>
<circle cx="283" cy="1088.1" r="4.8" fill="#fff" stroke="#96103F" stroke-width="1.3"/>
<circle cx="288.9" cy="1118.8" r="4.8" fill="#fff" stroke="#96103F" stroke-width="1.3"/>
<circle cx="294" cy="1104" r="4.8" fill="#fff" stroke="#96103F" stroke-width="1.3"/>
<circle cx="299.5" cy="1098.1" r="4.8" fill="#fff" stroke="#96103F" stroke-width="1.3"/>
<circle cx="304.3" cy="1090.2" r="4.8" fill="#fff" stroke="#96103F" stroke-width="1.3"/>
<circle cx="309" cy="1086.8" r="4.8" fill="#fff" stroke="#96103F" stroke-width="1.3"/>
<circle cx="314.7" cy="1084.2" r="4.8" fill="#fff" stroke="#96103F" stroke-width="1.3"/>
<circle cx="319.1" cy="1084.5" r="4.8" fill="#fff" stroke="#96103F" stroke-width="1.3"/>
<circle cx="324.8" cy="1084.8" r="4.8" fill="#fff" stroke="#96103F" stroke-width="1.3"/>
<circle cx="330" cy="1080.9" r="4.8" fill="#fff" stroke="#96103F" stroke-width="1.3"/>
<circle cx="335.9" cy="1082.9" r="4.8" fill="#fff" stroke="#96103F" stroke-width="1.3"/>
<circle cx="341.1" cy="1087.1" r="4.8" fill="#fff" stroke="#96103F" stroke-width="1.3"/>
<circle cx="346.5" cy="1092.6" r="4.8" fill="#fff" stroke="#96103F" stroke-width="1.3"/>
<circle cx="351.9" cy="1097.8" r="4.8" fill="#fff" stroke="#96103F" stroke-width="1.3"/>
<circle cx="357.8" cy="1102.6" r="4.8" fill="#fff" stroke="#96103F" stroke-width="1.3"/>
<circle cx="363" cy="1179.8" r="4.8" fill="#fff" stroke="#96103F" stroke-width="1.3"/>
<circle cx="368.5" cy="1131.9" r="4.8" fill="#fff" stroke="#96103F" stroke-width="1.3"/>
<circle cx="373.6" cy="1116.2" r="4.8" fill="#fff" stroke="#96103F" stroke-width="1.3"/>
<circle cx="379.1" cy="1095.9" r="4.8" fill="#fff" stroke="#96103F" stroke-width="1.3"/>
<circle cx="384.3" cy="1072" r="4.8" fill="#fff" stroke="#96103F" stroke-width="1.3"/>
<circle cx="390" cy="1050.3" r="4.8" fill="#fff" stroke="#96103F" stroke-width="1.3"/>
<circle cx="394.8" cy="1025.6" r="4.8" fill="#fff" stroke="#96103F" stroke-width="1.3"/>
<circle cx="400.1" cy="1012" r="4.8" fill="#fff" stroke="#96103F" stroke-width="1.3"/>
<circle cx="405.5" cy="1001.4" r="4.8" fill="#fff" stroke="#96103F" stroke-width="1.3"/>
<circle cx="410.7" cy="996.9" r="4.8" fill="#fff" stroke="#96103F" stroke-width="1.3"/>
<line x1="348" y1="121.2" x2="419.5" y2="121.2" stroke="#EE9A3A" stroke-width="1.8"/>
<polygon points="418.5,118 432,121.2 418.5,124.4" fill="#EE9A3A"/>
<line x1="391.6" y1="673.2" x2="421.3" y2="673.2" stroke="#5EB630" stroke-width="1.8"/>
<polygon points="420.3,670 433.8,673.2 420.3,676.4" fill="#5EB630"/>
<line x1="389.3" y1="1096.3" x2="419.3" y2="1096.3" stroke="#B40E4A" stroke-width="1.8"/>
<polygon points="418.3,1093.1 431.8,1096.3 418.3,1099.5" fill="#B40E4A"/>
<rect x="70.9" y="10.8" width="366.4" height="347.7" fill="none" stroke="#000" stroke-width="1.5"/>
<line x1="70.9" y1="358.5" x2="70.9" y2="362" stroke="#000" stroke-width="1.4"/>
<line x1="70.9" y1="10.8" x2="70.9" y2="14.3" stroke="#000" stroke-width="1.4"/>
<line x1="91.25" y1="358.5" x2="91.25" y2="365" stroke="#000" stroke-width="1.4"/>
<line x1="91.25" y1="10.8" x2="91.25" y2="17.3" stroke="#000" stroke-width="1.4"/>
<line x1="111.61" y1="358.5" x2="111.61" y2="362" stroke="#000" stroke-width="1.4"/>
<line x1="111.61" y1="10.8" x2="111.61" y2="14.3" stroke="#000" stroke-width="1.4"/>
<line x1="131.96" y1="358.5" x2="131.96" y2="365" stroke="#000" stroke-width="1.4"/>
<line x1="131.96" y1="10.8" x2="131.96" y2="17.3" stroke="#000" stroke-width="1.4"/>
<line x1="152.32" y1="358.5" x2="152.32" y2="362" stroke="#000" stroke-width="1.4"/>
<line x1="152.32" y1="10.8" x2="152.32" y2="14.3" stroke="#000" stroke-width="1.4"/>
<line x1="172.67" y1="358.5" x2="172.67" y2="365" stroke="#000" stroke-width="1.4"/>
<line x1="172.67" y1="10.8" x2="172.67" y2="17.3" stroke="#000" stroke-width="1.4"/>
<line x1="193.03" y1="358.5" x2="193.03" y2="362" stroke="#000" stroke-width="1.4"/>
<line x1="193.03" y1="10.8" x2="193.03" y2="14.3" stroke="#000" stroke-width="1.4"/>
<line x1="213.38" y1="358.5" x2="213.38" y2="365" stroke="#000" stroke-width="1.4"/>
<line x1="213.38" y1="10.8" x2="213.38" y2="17.3" stroke="#000" stroke-width="1.4"/>
<line x1="233.74" y1="358.5" x2="233.74" y2="362" stroke="#000" stroke-width="1.4"/>
<line x1="233.74" y1="10.8" x2="233.74" y2="14.3" stroke="#000" stroke-width="1.4"/>
<line x1="254.09" y1="358.5" x2="254.09" y2="365" stroke="#000" stroke-width="1.4"/>
<line x1="254.09" y1="10.8" x2="254.09" y2="17.3" stroke="#000" stroke-width="1.4"/>
<line x1="274.45" y1="358.5" x2="274.45" y2="362" stroke="#000" stroke-width="1.4"/>
<line x1="274.45" y1="10.8" x2="274.45" y2="14.3" stroke="#000" stroke-width="1.4"/>
<line x1="294.8" y1="358.5" x2="294.8" y2="365" stroke="#000" stroke-width="1.4"/>
<line x1="294.8" y1="10.8" x2="294.8" y2="17.3" stroke="#000" stroke-width="1.4"/>
<line x1="315.16" y1="358.5" x2="315.16" y2="362" stroke="#000" stroke-width="1.4"/>
<line x1="315.16" y1="10.8" x2="315.16" y2="14.3" stroke="#000" stroke-width="1.4"/>
<line x1="335.51" y1="358.5" x2="335.51" y2="365" stroke="#000" stroke-width="1.4"/>
<line x1="335.51" y1="10.8" x2="335.51" y2="17.3" stroke="#000" stroke-width="1.4"/>
<line x1="355.87" y1="358.5" x2="355.87" y2="362" stroke="#000" stroke-width="1.4"/>
<line x1="355.87" y1="10.8" x2="355.87" y2="14.3" stroke="#000" stroke-width="1.4"/>
<line x1="376.22" y1="358.5" x2="376.22" y2="365" stroke="#000" stroke-width="1.4"/>
<line x1="376.22" y1="10.8" x2="376.22" y2="17.3" stroke="#000" stroke-width="1.4"/>
<line x1="396.58" y1="358.5" x2="396.58" y2="362" stroke="#000" stroke-width="1.4"/>
<line x1="396.58" y1="10.8" x2="396.58" y2="14.3" stroke="#000" stroke-width="1.4"/>
<line x1="416.93" y1="358.5" x2="416.93" y2="365" stroke="#000" stroke-width="1.4"/>
<line x1="416.93" y1="10.8" x2="416.93" y2="17.3" stroke="#000" stroke-width="1.4"/>
<line x1="437.29" y1="358.5" x2="437.29" y2="362" stroke="#000" stroke-width="1.4"/>
<line x1="437.29" y1="10.8" x2="437.29" y2="14.3" stroke="#000" stroke-width="1.4"/>
<line x1="67.4" y1="358.5" x2="70.9" y2="358.5" stroke="#000" stroke-width="1.4"/>
<line x1="64.4" y1="335.32" x2="70.9" y2="335.32" stroke="#000" stroke-width="1.4"/>
<line x1="67.4" y1="312.14" x2="70.9" y2="312.14" stroke="#000" stroke-width="1.4"/>
<line x1="64.4" y1="288.96" x2="70.9" y2="288.96" stroke="#000" stroke-width="1.4"/>
<line x1="67.4" y1="265.78" x2="70.9" y2="265.78" stroke="#000" stroke-width="1.4"/>
<line x1="64.4" y1="242.6" x2="70.9" y2="242.6" stroke="#000" stroke-width="1.4"/>
<line x1="67.4" y1="219.42" x2="70.9" y2="219.42" stroke="#000" stroke-width="1.4"/>
<line x1="64.4" y1="196.24" x2="70.9" y2="196.24" stroke="#000" stroke-width="1.4"/>
<line x1="67.4" y1="173.06" x2="70.9" y2="173.06" stroke="#000" stroke-width="1.4"/>
<line x1="64.4" y1="149.88" x2="70.9" y2="149.88" stroke="#000" stroke-width="1.4"/>
<line x1="67.4" y1="126.7" x2="70.9" y2="126.7" stroke="#000" stroke-width="1.4"/>
<line x1="64.4" y1="103.52" x2="70.9" y2="103.52" stroke="#000" stroke-width="1.4"/>
<line x1="67.4" y1="80.34" x2="70.9" y2="80.34" stroke="#000" stroke-width="1.4"/>
<line x1="64.4" y1="57.16" x2="70.9" y2="57.16" stroke="#000" stroke-width="1.4"/>
<line x1="67.4" y1="33.98" x2="70.9" y2="33.98" stroke="#000" stroke-width="1.4"/>
<line x1="64.4" y1="10.8" x2="70.9" y2="10.8" stroke="#000" stroke-width="1.4"/>
<line x1="430.8" y1="352.4" x2="437.3" y2="352.4" stroke="#000" stroke-width="1.4"/>
<line x1="433.8" y1="310.86" x2="437.3" y2="310.86" stroke="#000" stroke-width="1.4"/>
<line x1="433.8" y1="286.56" x2="437.3" y2="286.56" stroke="#000" stroke-width="1.4"/>
<line x1="433.8" y1="269.32" x2="437.3" y2="269.32" stroke="#000" stroke-width="1.4"/>
<line x1="433.8" y1="255.94" x2="437.3" y2="255.94" stroke="#000" stroke-width="1.4"/>
<line x1="433.8" y1="245.02" x2="437.3" y2="245.02" stroke="#000" stroke-width="1.4"/>
<line x1="433.8" y1="235.78" x2="437.3" y2="235.78" stroke="#000" stroke-width="1.4"/>
<line x1="433.8" y1="227.77" x2="437.3" y2="227.77" stroke="#000" stroke-width="1.4"/>
<line x1="433.8" y1="220.71" x2="437.3" y2="220.71" stroke="#000" stroke-width="1.4"/>
<line x1="430.8" y1="214.4" x2="437.3" y2="214.4" stroke="#000" stroke-width="1.4"/>
<line x1="433.8" y1="172.86" x2="437.3" y2="172.86" stroke="#000" stroke-width="1.4"/>
<line x1="433.8" y1="148.56" x2="437.3" y2="148.56" stroke="#000" stroke-width="1.4"/>
<line x1="433.8" y1="131.32" x2="437.3" y2="131.32" stroke="#000" stroke-width="1.4"/>
<line x1="433.8" y1="117.94" x2="437.3" y2="117.94" stroke="#000" stroke-width="1.4"/>
<line x1="433.8" y1="107.02" x2="437.3" y2="107.02" stroke="#000" stroke-width="1.4"/>
<line x1="433.8" y1="97.78" x2="437.3" y2="97.78" stroke="#000" stroke-width="1.4"/>
<line x1="433.8" y1="89.77" x2="437.3" y2="89.77" stroke="#000" stroke-width="1.4"/>
<line x1="433.8" y1="82.71" x2="437.3" y2="82.71" stroke="#000" stroke-width="1.4"/>
<line x1="430.8" y1="76.4" x2="437.3" y2="76.4" stroke="#000" stroke-width="1.4"/>
<line x1="433.8" y1="34.86" x2="437.3" y2="34.86" stroke="#000" stroke-width="1.4"/>
<text x="91.25" y="385.3" font-size="20" text-anchor="middle" fill="#000" >3.5</text>
<text x="131.96" y="385.3" font-size="20" text-anchor="middle" fill="#000" >3.6</text>
<text x="172.67" y="385.3" font-size="20" text-anchor="middle" fill="#000" >3.7</text>
<text x="213.38" y="385.3" font-size="20" text-anchor="middle" fill="#000" >3.8</text>
<text x="254.09" y="385.3" font-size="20" text-anchor="middle" fill="#000" >3.9</text>
<text x="294.8" y="385.3" font-size="20" text-anchor="middle" fill="#000" >4.0</text>
<text x="335.51" y="385.3" font-size="20" text-anchor="middle" fill="#000" >4.1</text>
<text x="376.22" y="385.3" font-size="20" text-anchor="middle" fill="#000" >4.2</text>
<text x="416.93" y="385.3" font-size="20" text-anchor="middle" fill="#000" >4.3</text>
<text x="62.3" y="341.12" font-size="20" text-anchor="end" fill="#000" >-0.2</text>
<text x="62.3" y="294.76" font-size="20" text-anchor="end" fill="#000" >0.0</text>
<text x="62.3" y="248.4" font-size="20" text-anchor="end" fill="#000" >0.2</text>
<text x="62.3" y="202.04" font-size="20" text-anchor="end" fill="#000" >0.4</text>
<text x="62.3" y="155.68" font-size="20" text-anchor="end" fill="#000" >0.6</text>
<text x="62.3" y="109.32" font-size="20" text-anchor="end" fill="#000" >0.8</text>
<text x="62.3" y="62.96" font-size="20" text-anchor="end" fill="#000" >1.0</text>
<text x="62.3" y="16.6" font-size="20" text-anchor="end" fill="#000" >1.2</text>
<text x="443" y="360" font-size="20">10<tspan font-size="12" dy="-10.5">-14</tspan></text>
<text x="443" y="222" font-size="20">10<tspan font-size="12" dy="-10.5">-13</tspan></text>
<text x="443" y="84" font-size="20">10<tspan font-size="12" dy="-10.5">-12</tspan></text>
<rect x="66.8" y="436.5" width="370.7" height="347.3" fill="none" stroke="#000" stroke-width="1.5"/>
<line x1="66.8" y1="783.8" x2="66.8" y2="790.3" stroke="#000" stroke-width="1.4"/>
<line x1="66.8" y1="436.5" x2="66.8" y2="443" stroke="#000" stroke-width="1.4"/>
<line x1="103.87" y1="783.8" x2="103.87" y2="787.3" stroke="#000" stroke-width="1.4"/>
<line x1="103.87" y1="436.5" x2="103.87" y2="440" stroke="#000" stroke-width="1.4"/>
<line x1="140.94" y1="783.8" x2="140.94" y2="790.3" stroke="#000" stroke-width="1.4"/>
<line x1="140.94" y1="436.5" x2="140.94" y2="443" stroke="#000" stroke-width="1.4"/>
<line x1="178.01" y1="783.8" x2="178.01" y2="787.3" stroke="#000" stroke-width="1.4"/>
<line x1="178.01" y1="436.5" x2="178.01" y2="440" stroke="#000" stroke-width="1.4"/>
<line x1="215.08" y1="783.8" x2="215.08" y2="790.3" stroke="#000" stroke-width="1.4"/>
<line x1="215.08" y1="436.5" x2="215.08" y2="443" stroke="#000" stroke-width="1.4"/>
<line x1="252.15" y1="783.8" x2="252.15" y2="787.3" stroke="#000" stroke-width="1.4"/>
<line x1="252.15" y1="436.5" x2="252.15" y2="440" stroke="#000" stroke-width="1.4"/>
<line x1="289.22" y1="783.8" x2="289.22" y2="790.3" stroke="#000" stroke-width="1.4"/>
<line x1="289.22" y1="436.5" x2="289.22" y2="443" stroke="#000" stroke-width="1.4"/>
<line x1="326.29" y1="783.8" x2="326.29" y2="787.3" stroke="#000" stroke-width="1.4"/>
<line x1="326.29" y1="436.5" x2="326.29" y2="440" stroke="#000" stroke-width="1.4"/>
<line x1="363.36" y1="783.8" x2="363.36" y2="790.3" stroke="#000" stroke-width="1.4"/>
<line x1="363.36" y1="436.5" x2="363.36" y2="443" stroke="#000" stroke-width="1.4"/>
<line x1="400.43" y1="783.8" x2="400.43" y2="787.3" stroke="#000" stroke-width="1.4"/>
<line x1="400.43" y1="436.5" x2="400.43" y2="440" stroke="#000" stroke-width="1.4"/>
<line x1="437.5" y1="783.8" x2="437.5" y2="790.3" stroke="#000" stroke-width="1.4"/>
<line x1="437.5" y1="436.5" x2="437.5" y2="443" stroke="#000" stroke-width="1.4"/>
<line x1="60.3" y1="783.81" x2="66.8" y2="783.81" stroke="#000" stroke-width="1.4"/>
<line x1="63.3" y1="764.52" x2="66.8" y2="764.52" stroke="#000" stroke-width="1.4"/>
<line x1="60.3" y1="745.22" x2="66.8" y2="745.22" stroke="#000" stroke-width="1.4"/>
<line x1="63.3" y1="725.92" x2="66.8" y2="725.92" stroke="#000" stroke-width="1.4"/>
<line x1="60.3" y1="706.63" x2="66.8" y2="706.63" stroke="#000" stroke-width="1.4"/>
<line x1="63.3" y1="687.34" x2="66.8" y2="687.34" stroke="#000" stroke-width="1.4"/>
<line x1="60.3" y1="668.04" x2="66.8" y2="668.04" stroke="#000" stroke-width="1.4"/>
<line x1="63.3" y1="648.75" x2="66.8" y2="648.75" stroke="#000" stroke-width="1.4"/>
<line x1="60.3" y1="629.45" x2="66.8" y2="629.45" stroke="#000" stroke-width="1.4"/>
<line x1="63.3" y1="610.15" x2="66.8" y2="610.15" stroke="#000" stroke-width="1.4"/>
<line x1="60.3" y1="590.86" x2="66.8" y2="590.86" stroke="#000" stroke-width="1.4"/>
<line x1="63.3" y1="571.57" x2="66.8" y2="571.57" stroke="#000" stroke-width="1.4"/>
<line x1="60.3" y1="552.27" x2="66.8" y2="552.27" stroke="#000" stroke-width="1.4"/>
<line x1="63.3" y1="532.98" x2="66.8" y2="532.98" stroke="#000" stroke-width="1.4"/>
<line x1="60.3" y1="513.68" x2="66.8" y2="513.68" stroke="#000" stroke-width="1.4"/>
<line x1="63.3" y1="494.38" x2="66.8" y2="494.38" stroke="#000" stroke-width="1.4"/>
<line x1="60.3" y1="475.09" x2="66.8" y2="475.09" stroke="#000" stroke-width="1.4"/>
<line x1="63.3" y1="455.8" x2="66.8" y2="455.8" stroke="#000" stroke-width="1.4"/>
<line x1="60.3" y1="436.5" x2="66.8" y2="436.5" stroke="#000" stroke-width="1.4"/>
<line x1="434" y1="757.91" x2="437.5" y2="757.91" stroke="#000" stroke-width="1.4"/>
<line x1="434" y1="739.01" x2="437.5" y2="739.01" stroke="#000" stroke-width="1.4"/>
<line x1="434" y1="724.35" x2="437.5" y2="724.35" stroke="#000" stroke-width="1.4"/>
<line x1="434" y1="712.37" x2="437.5" y2="712.37" stroke="#000" stroke-width="1.4"/>
<line x1="434" y1="702.24" x2="437.5" y2="702.24" stroke="#000" stroke-width="1.4"/>
<line x1="434" y1="693.46" x2="437.5" y2="693.46" stroke="#000" stroke-width="1.4"/>
<line x1="434" y1="685.72" x2="437.5" y2="685.72" stroke="#000" stroke-width="1.4"/>
<line x1="431" y1="678.8" x2="437.5" y2="678.8" stroke="#000" stroke-width="1.4"/>
<line x1="434" y1="633.25" x2="437.5" y2="633.25" stroke="#000" stroke-width="1.4"/>
<line x1="434" y1="606.61" x2="437.5" y2="606.61" stroke="#000" stroke-width="1.4"/>
<line x1="434" y1="587.71" x2="437.5" y2="587.71" stroke="#000" stroke-width="1.4"/>
<line x1="434" y1="573.05" x2="437.5" y2="573.05" stroke="#000" stroke-width="1.4"/>
<line x1="434" y1="561.07" x2="437.5" y2="561.07" stroke="#000" stroke-width="1.4"/>
<line x1="434" y1="550.94" x2="437.5" y2="550.94" stroke="#000" stroke-width="1.4"/>
<line x1="434" y1="542.16" x2="437.5" y2="542.16" stroke="#000" stroke-width="1.4"/>
<line x1="434" y1="534.42" x2="437.5" y2="534.42" stroke="#000" stroke-width="1.4"/>
<line x1="431" y1="527.5" x2="437.5" y2="527.5" stroke="#000" stroke-width="1.4"/>
<line x1="434" y1="481.95" x2="437.5" y2="481.95" stroke="#000" stroke-width="1.4"/>
<line x1="434" y1="455.31" x2="437.5" y2="455.31" stroke="#000" stroke-width="1.4"/>
<text x="66.8" y="811.3" font-size="20" text-anchor="middle" fill="#000" >3.2</text>
<text x="140.94" y="811.3" font-size="20" text-anchor="middle" fill="#000" >3.4</text>
<text x="215.08" y="811.3" font-size="20" text-anchor="middle" fill="#000" >3.6</text>
<text x="289.22" y="811.3" font-size="20" text-anchor="middle" fill="#000" >3.8</text>
<text x="363.36" y="811.3" font-size="20" text-anchor="middle" fill="#000" >4.0</text>
<text x="437.5" y="811.3" font-size="20" text-anchor="middle" fill="#000" >4.2</text>
<text x="54.6" y="789.91" font-size="20" text-anchor="end" fill="#000" >-4</text>
<text x="54.6" y="751.32" font-size="20" text-anchor="end" fill="#000" >-3</text>
<text x="54.6" y="712.73" font-size="20" text-anchor="end" fill="#000" >-2</text>
<text x="54.6" y="674.14" font-size="20" text-anchor="end" fill="#000" >-1</text>
<text x="54.6" y="635.55" font-size="20" text-anchor="end" fill="#000" >0</text>
<text x="54.6" y="596.96" font-size="20" text-anchor="end" fill="#000" >1</text>
<text x="54.6" y="558.37" font-size="20" text-anchor="end" fill="#000" >2</text>
<text x="54.6" y="519.78" font-size="20" text-anchor="end" fill="#000" >3</text>
<text x="54.6" y="481.19" font-size="20" text-anchor="end" fill="#000" >4</text>
<text x="54.6" y="442.6" font-size="20" text-anchor="end" fill="#000" >5</text>
<text x="446.5" y="686.6" font-size="20">10<tspan font-size="12" dy="-10.5">-12</tspan></text>
<text x="446.5" y="535.3" font-size="20">10<tspan font-size="12" dy="-10.5">-11</tspan></text>
<rect x="66.3" y="862.5" width="371.2" height="347.8" fill="none" stroke="#000" stroke-width="1.5"/>
<line x1="66.3" y1="1210.3" x2="66.3" y2="1213.8" stroke="#000" stroke-width="1.4"/>
<line x1="66.3" y1="862.5" x2="66.3" y2="866" stroke="#000" stroke-width="1.4"/>
<line x1="92.82" y1="1210.3" x2="92.82" y2="1216.8" stroke="#000" stroke-width="1.4"/>
<line x1="92.82" y1="862.5" x2="92.82" y2="869" stroke="#000" stroke-width="1.4"/>
<line x1="119.33" y1="1210.3" x2="119.33" y2="1213.8" stroke="#000" stroke-width="1.4"/>
<line x1="119.33" y1="862.5" x2="119.33" y2="866" stroke="#000" stroke-width="1.4"/>
<line x1="145.85" y1="1210.3" x2="145.85" y2="1216.8" stroke="#000" stroke-width="1.4"/>
<line x1="145.85" y1="862.5" x2="145.85" y2="869" stroke="#000" stroke-width="1.4"/>
<line x1="172.36" y1="1210.3" x2="172.36" y2="1213.8" stroke="#000" stroke-width="1.4"/>
<line x1="172.36" y1="862.5" x2="172.36" y2="866" stroke="#000" stroke-width="1.4"/>
<line x1="198.88" y1="1210.3" x2="198.88" y2="1216.8" stroke="#000" stroke-width="1.4"/>
<line x1="198.88" y1="862.5" x2="198.88" y2="869" stroke="#000" stroke-width="1.4"/>
<line x1="225.39" y1="1210.3" x2="225.39" y2="1213.8" stroke="#000" stroke-width="1.4"/>
<line x1="225.39" y1="862.5" x2="225.39" y2="866" stroke="#000" stroke-width="1.4"/>
<line x1="251.91" y1="1210.3" x2="251.91" y2="1216.8" stroke="#000" stroke-width="1.4"/>
<line x1="251.91" y1="862.5" x2="251.91" y2="869" stroke="#000" stroke-width="1.4"/>
<line x1="278.42" y1="1210.3" x2="278.42" y2="1213.8" stroke="#000" stroke-width="1.4"/>
<line x1="278.42" y1="862.5" x2="278.42" y2="866" stroke="#000" stroke-width="1.4"/>
<line x1="304.93" y1="1210.3" x2="304.93" y2="1216.8" stroke="#000" stroke-width="1.4"/>
<line x1="304.93" y1="862.5" x2="304.93" y2="869" stroke="#000" stroke-width="1.4"/>
<line x1="331.45" y1="1210.3" x2="331.45" y2="1213.8" stroke="#000" stroke-width="1.4"/>
<line x1="331.45" y1="862.5" x2="331.45" y2="866" stroke="#000" stroke-width="1.4"/>
<line x1="357.97" y1="1210.3" x2="357.97" y2="1216.8" stroke="#000" stroke-width="1.4"/>
<line x1="357.97" y1="862.5" x2="357.97" y2="869" stroke="#000" stroke-width="1.4"/>
<line x1="384.48" y1="1210.3" x2="384.48" y2="1213.8" stroke="#000" stroke-width="1.4"/>
<line x1="384.48" y1="862.5" x2="384.48" y2="866" stroke="#000" stroke-width="1.4"/>
<line x1="411" y1="1210.3" x2="411" y2="1216.8" stroke="#000" stroke-width="1.4"/>
<line x1="411" y1="862.5" x2="411" y2="869" stroke="#000" stroke-width="1.4"/>
<line x1="437.51" y1="1210.3" x2="437.51" y2="1213.8" stroke="#000" stroke-width="1.4"/>
<line x1="437.51" y1="862.5" x2="437.51" y2="866" stroke="#000" stroke-width="1.4"/>
<line x1="59.8" y1="1210.3" x2="66.3" y2="1210.3" stroke="#000" stroke-width="1.4"/>
<line x1="62.8" y1="1188.56" x2="66.3" y2="1188.56" stroke="#000" stroke-width="1.4"/>
<line x1="59.8" y1="1166.82" x2="66.3" y2="1166.82" stroke="#000" stroke-width="1.4"/>
<line x1="62.8" y1="1145.09" x2="66.3" y2="1145.09" stroke="#000" stroke-width="1.4"/>
<line x1="59.8" y1="1123.35" x2="66.3" y2="1123.35" stroke="#000" stroke-width="1.4"/>
<line x1="62.8" y1="1101.61" x2="66.3" y2="1101.61" stroke="#000" stroke-width="1.4"/>
<line x1="59.8" y1="1079.88" x2="66.3" y2="1079.88" stroke="#000" stroke-width="1.4"/>
<line x1="62.8" y1="1058.14" x2="66.3" y2="1058.14" stroke="#000" stroke-width="1.4"/>
<line x1="59.8" y1="1036.4" x2="66.3" y2="1036.4" stroke="#000" stroke-width="1.4"/>
<line x1="62.8" y1="1014.66" x2="66.3" y2="1014.66" stroke="#000" stroke-width="1.4"/>
<line x1="59.8" y1="992.92" x2="66.3" y2="992.92" stroke="#000" stroke-width="1.4"/>
<line x1="62.8" y1="971.19" x2="66.3" y2="971.19" stroke="#000" stroke-width="1.4"/>
<line x1="59.8" y1="949.45" x2="66.3" y2="949.45" stroke="#000" stroke-width="1.4"/>
<line x1="62.8" y1="927.71" x2="66.3" y2="927.71" stroke="#000" stroke-width="1.4"/>
<line x1="59.8" y1="905.98" x2="66.3" y2="905.98" stroke="#000" stroke-width="1.4"/>
<line x1="62.8" y1="884.24" x2="66.3" y2="884.24" stroke="#000" stroke-width="1.4"/>
<line x1="59.8" y1="862.5" x2="66.3" y2="862.5" stroke="#000" stroke-width="1.4"/>
<line x1="434" y1="1195.76" x2="437.5" y2="1195.76" stroke="#000" stroke-width="1.4"/>
<line x1="434" y1="1185.35" x2="437.5" y2="1185.35" stroke="#000" stroke-width="1.4"/>
<line x1="434" y1="1177.27" x2="437.5" y2="1177.27" stroke="#000" stroke-width="1.4"/>
<line x1="434" y1="1170.68" x2="437.5" y2="1170.68" stroke="#000" stroke-width="1.4"/>
<line x1="434" y1="1165.1" x2="437.5" y2="1165.1" stroke="#000" stroke-width="1.4"/>
<line x1="434" y1="1160.27" x2="437.5" y2="1160.27" stroke="#000" stroke-width="1.4"/>
<line x1="434" y1="1156" x2="437.5" y2="1156" stroke="#000" stroke-width="1.4"/>
<line x1="431" y1="1152.19" x2="437.5" y2="1152.19" stroke="#000" stroke-width="1.4"/>
<line x1="434" y1="1127.11" x2="437.5" y2="1127.11" stroke="#000" stroke-width="1.4"/>
<line x1="434" y1="1112.43" x2="437.5" y2="1112.43" stroke="#000" stroke-width="1.4"/>
<line x1="434" y1="1102.02" x2="437.5" y2="1102.02" stroke="#000" stroke-width="1.4"/>
<line x1="434" y1="1093.94" x2="437.5" y2="1093.94" stroke="#000" stroke-width="1.4"/>
<line x1="434" y1="1087.35" x2="437.5" y2="1087.35" stroke="#000" stroke-width="1.4"/>
<line x1="434" y1="1081.77" x2="437.5" y2="1081.77" stroke="#000" stroke-width="1.4"/>
<line x1="434" y1="1076.94" x2="437.5" y2="1076.94" stroke="#000" stroke-width="1.4"/>
<line x1="434" y1="1072.67" x2="437.5" y2="1072.67" stroke="#000" stroke-width="1.4"/>
<line x1="431" y1="1068.86" x2="437.5" y2="1068.86" stroke="#000" stroke-width="1.4"/>
<line x1="434" y1="1043.78" x2="437.5" y2="1043.78" stroke="#000" stroke-width="1.4"/>
<line x1="434" y1="1029.1" x2="437.5" y2="1029.1" stroke="#000" stroke-width="1.4"/>
<line x1="434" y1="1018.69" x2="437.5" y2="1018.69" stroke="#000" stroke-width="1.4"/>
<line x1="434" y1="1010.61" x2="437.5" y2="1010.61" stroke="#000" stroke-width="1.4"/>
<line x1="434" y1="1004.02" x2="437.5" y2="1004.02" stroke="#000" stroke-width="1.4"/>
<line x1="434" y1="998.44" x2="437.5" y2="998.44" stroke="#000" stroke-width="1.4"/>
<line x1="434" y1="993.61" x2="437.5" y2="993.61" stroke="#000" stroke-width="1.4"/>
<line x1="434" y1="989.34" x2="437.5" y2="989.34" stroke="#000" stroke-width="1.4"/>
<line x1="431" y1="985.53" x2="437.5" y2="985.53" stroke="#000" stroke-width="1.4"/>
<line x1="434" y1="960.45" x2="437.5" y2="960.45" stroke="#000" stroke-width="1.4"/>
<line x1="434" y1="945.77" x2="437.5" y2="945.77" stroke="#000" stroke-width="1.4"/>
<line x1="434" y1="935.36" x2="437.5" y2="935.36" stroke="#000" stroke-width="1.4"/>
<line x1="434" y1="927.28" x2="437.5" y2="927.28" stroke="#000" stroke-width="1.4"/>
<line x1="434" y1="920.69" x2="437.5" y2="920.69" stroke="#000" stroke-width="1.4"/>
<line x1="434" y1="915.11" x2="437.5" y2="915.11" stroke="#000" stroke-width="1.4"/>
<line x1="434" y1="910.28" x2="437.5" y2="910.28" stroke="#000" stroke-width="1.4"/>
<line x1="434" y1="906.01" x2="437.5" y2="906.01" stroke="#000" stroke-width="1.4"/>
<line x1="431" y1="902.2" x2="437.5" y2="902.2" stroke="#000" stroke-width="1.4"/>
<line x1="434" y1="877.12" x2="437.5" y2="877.12" stroke="#000" stroke-width="1.4"/>
<text x="92.82" y="1238" font-size="21" text-anchor="middle" fill="#000" >1.0</text>
<text x="145.85" y="1238" font-size="21" text-anchor="middle" fill="#000" >1.1</text>
<text x="198.88" y="1238" font-size="21" text-anchor="middle" fill="#000" >1.2</text>
<text x="251.91" y="1238" font-size="21" text-anchor="middle" fill="#000" >1.3</text>
<text x="304.93" y="1238" font-size="21" text-anchor="middle" fill="#000" >1.4</text>
<text x="357.97" y="1238" font-size="21" text-anchor="middle" fill="#000" >1.5</text>
<text x="411" y="1238" font-size="21" text-anchor="middle" fill="#000" >1.6</text>
<text x="55" y="1216.6" font-size="21" text-anchor="end" fill="#000" >-20</text>
<text x="55" y="1173.12" font-size="21" text-anchor="end" fill="#000" >-15</text>
<text x="55" y="1129.65" font-size="21" text-anchor="end" fill="#000" >-10</text>
<text x="55" y="1086.17" font-size="21" text-anchor="end" fill="#000" >-5</text>
<text x="55" y="1042.7" font-size="21" text-anchor="end" fill="#000" >0</text>
<text x="55" y="999.22" font-size="21" text-anchor="end" fill="#000" >5</text>
<text x="55" y="955.75" font-size="21" text-anchor="end" fill="#000" >10</text>
<text x="55" y="912.27" font-size="21" text-anchor="end" fill="#000" >15</text>
<text x="55" y="868.8" font-size="21" text-anchor="end" fill="#000" >20</text>
<text x="443" y="1159.99" font-size="21">10<tspan font-size="12" dy="-10.5">-12</tspan></text>
<text x="443" y="1076.66" font-size="21">10<tspan font-size="12" dy="-10.5">-11</tspan></text>
<text x="443" y="993.33" font-size="21">10<tspan font-size="12" dy="-10.5">-10</tspan></text>
<text x="443" y="910" font-size="21">10<tspan font-size="12" dy="-10.5">-9</tspan></text>
<text transform="translate(27.3,181) rotate(-90)" font-size="32" text-anchor="middle">Q, mC</text>
<text transform="translate(27,614.5) rotate(-90)" font-size="32" text-anchor="middle">Q, mC</text>
<text transform="translate(23.8,1044.6) rotate(-90)" font-size="32" text-anchor="middle">Q, mC</text>
<text transform="translate(483,121.9) rotate(90)" font-size="32">D, cm<tspan font-size="19" dy="-17">2</tspan><tspan dy="17">·s</tspan><tspan font-size="19" dy="-17">-1</tspan></text>
<text transform="translate(483,582.3) rotate(90)" font-size="32">D, cm<tspan font-size="19" dy="-17">2</tspan><tspan dy="17">·s</tspan><tspan font-size="19" dy="-17">-1</tspan></text>
<text transform="translate(483,999.6) rotate(90)" font-size="32">D, cm<tspan font-size="19" dy="-17">2</tspan><tspan dy="17">·s</tspan><tspan font-size="19" dy="-17">-1</tspan></text>
<text x="174" y="422.4" font-size="31">E, V (Li<tspan font-size="20" dx="2.0" dy="-16.5">+</tspan><tspan dx="0.5" dy="16.5">/Li)</tspan></text>
<text x="171.6" y="848.3" font-size="31">E, (Na<tspan font-size="20" dx="2.0" dy="-16.5">+</tspan><tspan dx="0.5" dy="16.5">/Na)</tspan></text>
<text x="168.8" y="1271.4" font-size="32">E, V (Ag<tspan font-size="21" dx="2.0" dy="-17">+</tspan><tspan dx="0.5" dy="17">/Ag)</tspan></text>
<text x="83" y="52.5" font-size="45" text-anchor="start" fill="#000" >a</text>
<text x="77" y="481" font-size="45" text-anchor="start" fill="#000" >b</text>
<text x="78" y="902" font-size="45" text-anchor="start" fill="#000" >c</text>
<text x="82" y="341.4" font-size="40" text-anchor="start" fill="#E99A3E" >Li</text>
<text x="75" y="769.4" font-size="40" text-anchor="start" fill="#6CC232" >Na</text>
<text x="78" y="1198.4" font-size="40" text-anchor="start" fill="#A8124E" >K</text>
</svg>
</body></html>
